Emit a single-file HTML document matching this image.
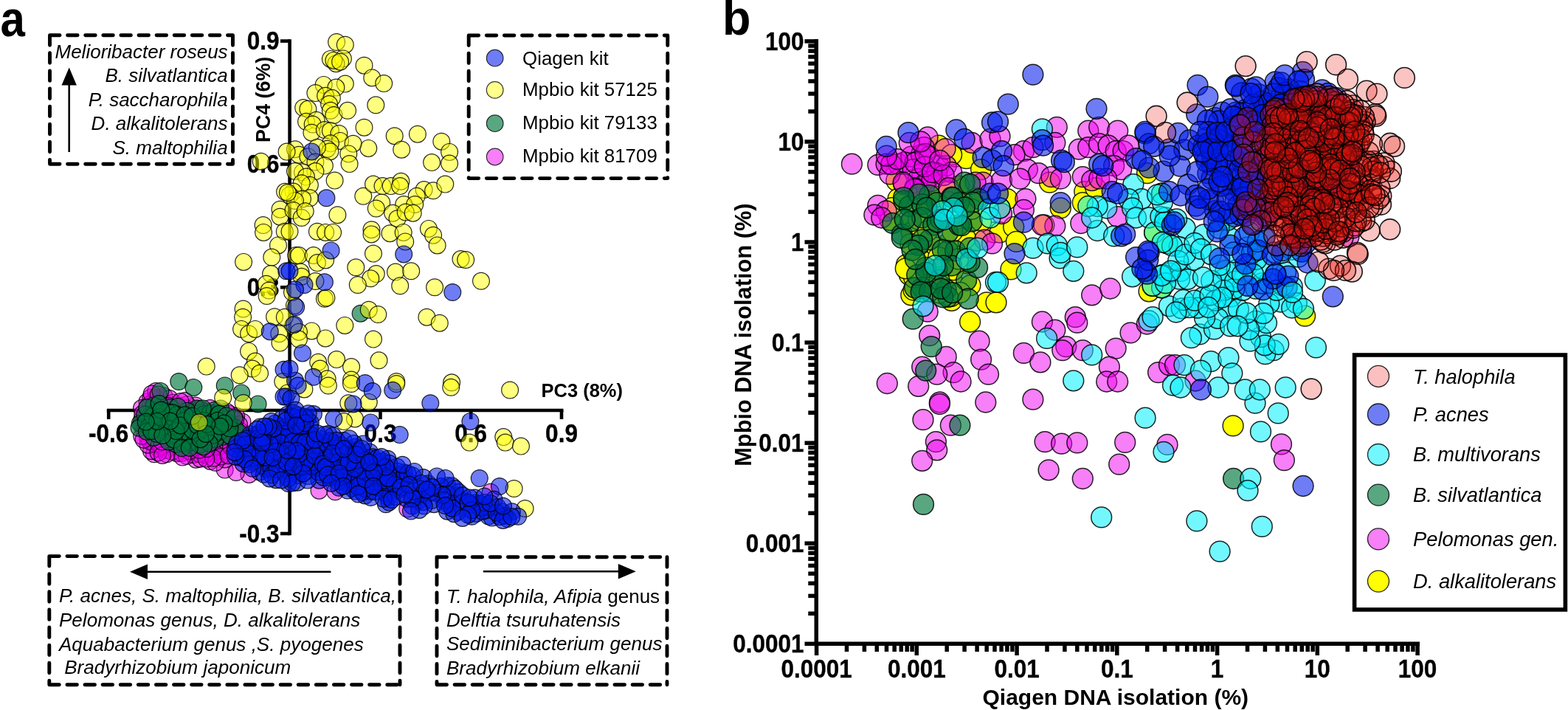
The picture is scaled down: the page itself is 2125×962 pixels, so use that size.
<!DOCTYPE html><html><head><meta charset="utf-8"><style>html,body{margin:0;padding:0;background:#fff;overflow:hidden;width:2125px;height:962px}svg{display:block}text{font-family:"Liberation Sans",Arial,sans-serif;fill:#000}.b{font-weight:bold}.i{font-style:italic}</style></head><body>
<svg width="2125" height="962" viewBox="0 0 2125 962">
<rect width="2125" height="962" fill="#fff"/>
<text class="b" font-size="60" transform="translate(0.5 48.6) scale(1 1.13)">a</text>
<text class="b" font-size="60" transform="translate(979 47.4) scale(1.05 1.1)">b</text>
<g stroke="#000" stroke-width="4.6" fill="none">
<path d="M392.6 53.3 V725.3"/>
<path d="M380 55.6 H392.6"/>
<path d="M380 222.5 H392.6"/>
<path d="M380 389.3 H392.6"/>
<path d="M380 723.0 H392.6"/>
<path d="M144.8 556 H763.5"/>
<path d="M147.2 556 V568"/>
<path d="M270.0 556 V568"/>
<path d="M515.5 556 V568"/>
<path d="M638.2 556 V568"/>
<path d="M761.0 556 V568"/>
</g>
<text class="b" font-size="31.5" text-anchor="end" stroke="#000" stroke-width="0.35" transform="translate(378.5 67.1) scale(1 1.13)">0.9</text>
<text class="b" font-size="31.5" text-anchor="end" stroke="#000" stroke-width="0.35" transform="translate(378.5 234.0) scale(1 1.13)">0.6</text>
<text class="b" font-size="31.5" text-anchor="end" stroke="#000" stroke-width="0.35" transform="translate(378.5 400.8) scale(1 1.13)">0.3</text>
<text class="b" font-size="31.5" text-anchor="end" stroke="#000" stroke-width="0.35" transform="translate(378.5 734.5) scale(1 1.13)">-0.3</text>
<text class="b" font-size="31.5" text-anchor="middle" stroke="#000" stroke-width="0.35" transform="translate(147.2 599.3) scale(1 1.13)">-0.6</text>
<text class="b" font-size="31.5" text-anchor="middle" stroke="#000" stroke-width="0.35" transform="translate(270.0 599.3) scale(1 1.13)">-0.3</text>
<text class="b" font-size="31.5" text-anchor="middle" stroke="#000" stroke-width="0.35" transform="translate(515.5 599.3) scale(1 1.13)">0.3</text>
<text class="b" font-size="31.5" text-anchor="middle" stroke="#000" stroke-width="0.35" transform="translate(638.2 599.3) scale(1 1.13)">0.6</text>
<text class="b" font-size="31.5" text-anchor="middle" stroke="#000" stroke-width="0.35" transform="translate(761.0 599.3) scale(1 1.13)">0.9</text>
<text class="b" x="733.5" y="537.6" font-size="25.5">PC3 (8%)</text>
<text class="b" x="0" y="0" font-size="26.8" text-anchor="middle" transform="translate(366 134.9) rotate(-90)">PC4 (6%)</text>
<g stroke="#000" stroke-width="5.5" fill="none">
<path d="M1106.3 53.1 V875"/>
<path d="M1104 872.3 H1924"/>
<path d="M1090.5 872.3 H1106"/>
<path d="M1106.6 872 V888"/>
<path d="M1095.3 831.3 H1106"/>
<path d="M1147.5 872 V883"/>
<path d="M1095.3 807.4 H1106"/>
<path d="M1171.4 872 V883"/>
<path d="M1095.3 790.4 H1106"/>
<path d="M1188.3 872 V883"/>
<path d="M1095.3 777.2 H1106"/>
<path d="M1201.5 872 V883"/>
<path d="M1095.3 766.4 H1106"/>
<path d="M1212.2 872 V883"/>
<path d="M1095.3 757.3 H1106"/>
<path d="M1221.3 872 V883"/>
<path d="M1095.3 749.4 H1106"/>
<path d="M1229.2 872 V883"/>
<path d="M1095.3 742.5 H1106"/>
<path d="M1236.1 872 V883"/>
<path d="M1090.5 736.2 H1106"/>
<path d="M1242.3 872 V888"/>
<path d="M1095.3 695.3 H1106"/>
<path d="M1283.2 872 V883"/>
<path d="M1095.3 671.3 H1106"/>
<path d="M1307.1 872 V883"/>
<path d="M1095.3 654.3 H1106"/>
<path d="M1324.1 872 V883"/>
<path d="M1095.3 641.1 H1106"/>
<path d="M1337.2 872 V883"/>
<path d="M1095.3 630.3 H1106"/>
<path d="M1348.0 872 V883"/>
<path d="M1095.3 621.2 H1106"/>
<path d="M1357.1 872 V883"/>
<path d="M1095.3 613.3 H1106"/>
<path d="M1364.9 872 V883"/>
<path d="M1095.3 606.4 H1106"/>
<path d="M1371.9 872 V883"/>
<path d="M1090.5 600.2 H1106"/>
<path d="M1378.1 872 V888"/>
<path d="M1095.3 559.2 H1106"/>
<path d="M1419.0 872 V883"/>
<path d="M1095.3 535.2 H1106"/>
<path d="M1442.9 872 V883"/>
<path d="M1095.3 518.2 H1106"/>
<path d="M1459.8 872 V883"/>
<path d="M1095.3 505.1 H1106"/>
<path d="M1473.0 872 V883"/>
<path d="M1095.3 494.3 H1106"/>
<path d="M1483.7 872 V883"/>
<path d="M1095.3 485.2 H1106"/>
<path d="M1492.8 872 V883"/>
<path d="M1095.3 477.3 H1106"/>
<path d="M1500.7 872 V883"/>
<path d="M1095.3 470.3 H1106"/>
<path d="M1507.6 872 V883"/>
<path d="M1090.5 464.1 H1106"/>
<path d="M1513.8 872 V888"/>
<path d="M1095.3 423.1 H1106"/>
<path d="M1554.7 872 V883"/>
<path d="M1095.3 399.2 H1106"/>
<path d="M1578.6 872 V883"/>
<path d="M1095.3 382.2 H1106"/>
<path d="M1595.6 872 V883"/>
<path d="M1095.3 369.0 H1106"/>
<path d="M1608.7 872 V883"/>
<path d="M1095.3 358.2 H1106"/>
<path d="M1619.5 872 V883"/>
<path d="M1095.3 349.1 H1106"/>
<path d="M1628.6 872 V883"/>
<path d="M1095.3 341.2 H1106"/>
<path d="M1636.4 872 V883"/>
<path d="M1095.3 334.2 H1106"/>
<path d="M1643.4 872 V883"/>
<path d="M1090.5 328.0 H1106"/>
<path d="M1649.6 872 V888"/>
<path d="M1095.3 287.1 H1106"/>
<path d="M1690.5 872 V883"/>
<path d="M1095.3 263.1 H1106"/>
<path d="M1714.4 872 V883"/>
<path d="M1095.3 246.1 H1106"/>
<path d="M1731.3 872 V883"/>
<path d="M1095.3 232.9 H1106"/>
<path d="M1744.5 872 V883"/>
<path d="M1095.3 222.1 H1106"/>
<path d="M1755.2 872 V883"/>
<path d="M1095.3 213.0 H1106"/>
<path d="M1764.3 872 V883"/>
<path d="M1095.3 205.1 H1106"/>
<path d="M1772.2 872 V883"/>
<path d="M1095.3 198.2 H1106"/>
<path d="M1779.1 872 V883"/>
<path d="M1090.5 192.0 H1106"/>
<path d="M1785.3 872 V888"/>
<path d="M1095.3 151.0 H1106"/>
<path d="M1826.2 872 V883"/>
<path d="M1095.3 127.0 H1106"/>
<path d="M1850.1 872 V883"/>
<path d="M1095.3 110.0 H1106"/>
<path d="M1867.1 872 V883"/>
<path d="M1095.3 96.8 H1106"/>
<path d="M1880.2 872 V883"/>
<path d="M1095.3 86.1 H1106"/>
<path d="M1891.0 872 V883"/>
<path d="M1095.3 77.0 H1106"/>
<path d="M1900.1 872 V883"/>
<path d="M1095.3 69.1 H1106"/>
<path d="M1907.9 872 V883"/>
<path d="M1095.3 62.1 H1106"/>
<path d="M1914.9 872 V883"/>
<path d="M1090.5 55.9 H1106"/>
<path d="M1921.1 872 V888"/>
</g>
<text class="b" font-size="31.5" text-anchor="end" stroke="#000" stroke-width="0.35" transform="translate(1089.5 884.1) scale(1 1.13)">0.0001</text>
<text class="b" font-size="31.5" text-anchor="middle" stroke="#000" stroke-width="0.35" transform="translate(1106.6 917.6) scale(1 1.13)">0.0001</text>
<text class="b" font-size="31.5" text-anchor="end" stroke="#000" stroke-width="0.35" transform="translate(1089.5 748.0) scale(1 1.13)">0.001</text>
<text class="b" font-size="31.5" text-anchor="middle" stroke="#000" stroke-width="0.35" transform="translate(1242.3 917.6) scale(1 1.13)">0.001</text>
<text class="b" font-size="31.5" text-anchor="end" stroke="#000" stroke-width="0.35" transform="translate(1089.5 612.0) scale(1 1.13)">0.01</text>
<text class="b" font-size="31.5" text-anchor="middle" stroke="#000" stroke-width="0.35" transform="translate(1378.1 917.6) scale(1 1.13)">0.01</text>
<text class="b" font-size="31.5" text-anchor="end" stroke="#000" stroke-width="0.35" transform="translate(1089.5 475.9) scale(1 1.13)">0.1</text>
<text class="b" font-size="31.5" text-anchor="middle" stroke="#000" stroke-width="0.35" transform="translate(1513.8 917.6) scale(1 1.13)">0.1</text>
<text class="b" font-size="31.5" text-anchor="end" stroke="#000" stroke-width="0.35" transform="translate(1089.5 339.8) scale(1 1.13)">1</text>
<text class="b" font-size="31.5" text-anchor="middle" stroke="#000" stroke-width="0.35" transform="translate(1649.6 917.6) scale(1 1.13)">1</text>
<text class="b" font-size="31.5" text-anchor="end" stroke="#000" stroke-width="0.35" transform="translate(1089.5 203.8) scale(1 1.13)">10</text>
<text class="b" font-size="31.5" text-anchor="middle" stroke="#000" stroke-width="0.35" transform="translate(1785.3 917.6) scale(1 1.13)">10</text>
<text class="b" font-size="31.5" text-anchor="end" stroke="#000" stroke-width="0.35" transform="translate(1089.5 67.7) scale(1 1.13)">100</text>
<text class="b" font-size="31.5" text-anchor="middle" stroke="#000" stroke-width="0.35" transform="translate(1921.1 917.6) scale(1 1.13)">100</text>
<text class="b" x="1511.8" y="954.7" font-size="30" text-anchor="middle">Qiagen DNA isolation (%)</text>
<text class="b" x="0" y="0" text-anchor="middle" transform="translate(1017.5 453.6) rotate(-90)" font-size="30.8">Mpbio DNA isolation (%)</text>
<g fill="rgba(240,0,240,0.5)" stroke="rgba(0,0,0,0.85)" stroke-width="1.2"><circle cx="304.7" cy="636.6" r="11.4"/><circle cx="337.4" cy="642.9" r="11.4"/><circle cx="432.5" cy="664.7" r="11.4"/><circle cx="454.3" cy="666.3" r="11.4"/><circle cx="664.8" cy="666.7" r="11.4"/><circle cx="552.2" cy="689.6" r="11.4"/><circle cx="320.0" cy="640.0" r="11.4"/><circle cx="209.0" cy="615.3" r="11.4"/><circle cx="227.0" cy="579.0" r="11.4"/><circle cx="286.1" cy="609.2" r="11.4"/><circle cx="253.5" cy="606.5" r="11.4"/><circle cx="221.3" cy="571.5" r="11.4"/><circle cx="223.7" cy="551.8" r="11.4"/><circle cx="257.5" cy="557.8" r="11.4"/><circle cx="313.8" cy="585.3" r="11.4"/><circle cx="238.6" cy="602.3" r="11.4"/><circle cx="328.5" cy="571.5" r="11.4"/><circle cx="288.9" cy="559.2" r="11.4"/><circle cx="264.3" cy="588.7" r="11.4"/><circle cx="225.2" cy="610.1" r="11.4"/><circle cx="214.8" cy="584.5" r="11.4"/><circle cx="289.5" cy="566.6" r="11.4"/><circle cx="264.8" cy="608.2" r="11.4"/><circle cx="247.6" cy="578.4" r="11.4"/><circle cx="277.4" cy="568.5" r="11.4"/><circle cx="303.8" cy="583.6" r="11.4"/><circle cx="275.1" cy="575.3" r="11.4"/><circle cx="299.3" cy="611.3" r="11.4"/><circle cx="318.6" cy="586.7" r="11.4"/><circle cx="264.2" cy="577.9" r="11.4"/><circle cx="240.6" cy="583.5" r="11.4"/><circle cx="280.3" cy="575.2" r="11.4"/><circle cx="223.2" cy="546.3" r="11.4"/><circle cx="307.8" cy="612.1" r="11.4"/><circle cx="314.4" cy="597.3" r="11.4"/><circle cx="205.3" cy="592.4" r="11.4"/><circle cx="199.4" cy="544.4" r="11.4"/><circle cx="214.1" cy="556.1" r="11.4"/><circle cx="192.5" cy="567.8" r="11.4"/><circle cx="217.0" cy="539.2" r="11.4"/><circle cx="265.0" cy="549.5" r="11.4"/><circle cx="294.0" cy="597.9" r="11.4"/><circle cx="236.9" cy="593.0" r="11.4"/><circle cx="299.8" cy="570.9" r="11.4"/><circle cx="293.9" cy="580.4" r="11.4"/><circle cx="240.7" cy="549.2" r="11.4"/><circle cx="253.5" cy="548.0" r="11.4"/><circle cx="305.6" cy="562.9" r="11.4"/><circle cx="289.5" cy="614.3" r="11.4"/><circle cx="224.0" cy="602.7" r="11.4"/><circle cx="314.3" cy="565.9" r="11.4"/><circle cx="209.2" cy="584.8" r="11.4"/><circle cx="222.3" cy="536.4" r="11.4"/><circle cx="233.0" cy="589.4" r="11.4"/><circle cx="221.1" cy="591.6" r="11.4"/><circle cx="269.9" cy="598.9" r="11.4"/><circle cx="284.9" cy="624.9" r="11.4"/><circle cx="234.7" cy="561.7" r="11.4"/><circle cx="275.3" cy="589.4" r="11.4"/><circle cx="192.0" cy="553.1" r="11.4"/><circle cx="200.2" cy="593.4" r="11.4"/><circle cx="307.0" cy="578.8" r="11.4"/><circle cx="212.0" cy="579.6" r="11.4"/><circle cx="214.8" cy="607.9" r="11.4"/><circle cx="311.4" cy="560.9" r="11.4"/><circle cx="265.6" cy="622.7" r="11.4"/><circle cx="300.2" cy="599.0" r="11.4"/><circle cx="315.8" cy="574.7" r="11.4"/><circle cx="239.5" cy="554.6" r="11.4"/><circle cx="285.3" cy="570.9" r="11.4"/><circle cx="198.3" cy="564.6" r="11.4"/><circle cx="207.6" cy="554.7" r="11.4"/><circle cx="248.3" cy="569.3" r="11.4"/><circle cx="254.3" cy="598.7" r="11.4"/><circle cx="230.0" cy="594.6" r="11.4"/><circle cx="199.7" cy="580.7" r="11.4"/><circle cx="244.4" cy="600.2" r="11.4"/><circle cx="277.6" cy="616.2" r="11.4"/><circle cx="273.9" cy="606.0" r="11.4"/><circle cx="290.6" cy="601.9" r="11.4"/><circle cx="293.4" cy="573.8" r="11.4"/><circle cx="308.6" cy="572.6" r="11.4"/><circle cx="233.0" cy="553.6" r="11.4"/><circle cx="282.5" cy="590.4" r="11.4"/><circle cx="219.8" cy="557.3" r="11.4"/><circle cx="262.1" cy="616.1" r="11.4"/><circle cx="205.1" cy="611.2" r="11.4"/><circle cx="235.4" cy="579.8" r="11.4"/><circle cx="254.9" cy="574.3" r="11.4"/><circle cx="248.5" cy="608.7" r="11.4"/><circle cx="262.4" cy="594.7" r="11.4"/><circle cx="234.5" cy="545.5" r="11.4"/><circle cx="268.1" cy="565.0" r="11.4"/><circle cx="310.5" cy="590.4" r="11.4"/><circle cx="252.0" cy="564.6" r="11.4"/><circle cx="214.1" cy="595.3" r="11.4"/><circle cx="323.0" cy="592.1" r="11.4"/><circle cx="297.5" cy="590.4" r="11.4"/><circle cx="209.6" cy="601.7" r="11.4"/><circle cx="204.9" cy="568.9" r="11.4"/><circle cx="203.9" cy="547.2" r="11.4"/><circle cx="240.0" cy="614.3" r="11.4"/><circle cx="257.9" cy="587.7" r="11.4"/><circle cx="295.5" cy="562.0" r="11.4"/><circle cx="236.6" cy="567.5" r="11.4"/><circle cx="229.8" cy="540.1" r="11.4"/><circle cx="247.1" cy="593.0" r="11.4"/><circle cx="284.6" cy="553.0" r="11.4"/><circle cx="328.3" cy="588.8" r="11.4"/><circle cx="279.2" cy="585.7" r="11.4"/><circle cx="296.4" cy="605.5" r="11.4"/><circle cx="195.0" cy="582.7" r="11.4"/><circle cx="252.3" cy="553.3" r="11.4"/><circle cx="300.5" cy="579.6" r="11.4"/><circle cx="203.8" cy="584.2" r="11.4"/><circle cx="233.6" cy="599.2" r="11.4"/><circle cx="269.9" cy="586.9" r="11.4"/><circle cx="239.1" cy="575.0" r="11.4"/><circle cx="276.8" cy="557.6" r="11.4"/><circle cx="261.4" cy="601.7" r="11.4"/><circle cx="228.5" cy="556.7" r="11.4"/><circle cx="219.0" cy="581.6" r="11.4"/><circle cx="228.9" cy="583.7" r="11.4"/><circle cx="228.8" cy="550.1" r="11.4"/><circle cx="259.1" cy="562.9" r="11.4"/><circle cx="200.5" cy="602.7" r="11.4"/><circle cx="290.2" cy="591.9" r="11.4"/><circle cx="259.5" cy="569.5" r="11.4"/><circle cx="270.2" cy="614.9" r="11.4"/><circle cx="305.1" cy="589.7" r="11.4"/><circle cx="196.9" cy="576.5" r="11.4"/><circle cx="304.8" cy="622.4" r="11.4"/><circle cx="320.1" cy="563.7" r="11.4"/><circle cx="232.8" cy="612.1" r="11.4"/><circle cx="246.1" cy="613.9" r="11.4"/><circle cx="259.2" cy="578.7" r="11.4"/><circle cx="254.7" cy="583.8" r="11.4"/><circle cx="211.3" cy="566.7" r="11.4"/><circle cx="325.0" cy="583.4" r="11.4"/><circle cx="286.4" cy="583.3" r="11.4"/><circle cx="230.4" cy="570.8" r="11.4"/><circle cx="281.7" cy="603.3" r="11.4"/><circle cx="253.0" cy="617.8" r="11.4"/><circle cx="224.9" cy="567.3" r="11.4"/><circle cx="284.1" cy="597.2" r="11.4"/><circle cx="203.0" cy="597.8" r="11.4"/><circle cx="324.0" cy="575.2" r="11.4"/><circle cx="271.3" cy="621.7" r="11.4"/><circle cx="252.6" cy="588.6" r="11.4"/><circle cx="271.1" cy="593.7" r="11.4"/><circle cx="211.1" cy="539.1" r="11.4"/><circle cx="193.3" cy="560.5" r="11.4"/><circle cx="276.7" cy="596.4" r="11.4"/><circle cx="284.7" cy="564.7" r="11.4"/><circle cx="291.9" cy="626.8" r="11.4"/><circle cx="243.5" cy="558.3" r="11.4"/><circle cx="299.8" cy="618.6" r="11.4"/><circle cx="265.5" cy="560.7" r="11.4"/><circle cx="271.0" cy="553.9" r="11.4"/><circle cx="219.2" cy="604.9" r="11.4"/><circle cx="225.8" cy="615.3" r="11.4"/><circle cx="208.9" cy="549.4" r="11.4"/><circle cx="319.2" cy="568.8" r="11.4"/><circle cx="213.0" cy="573.5" r="11.4"/><circle cx="269.6" cy="572.0" r="11.4"/><circle cx="204.4" cy="538.6" r="11.4"/><circle cx="211.2" cy="530.0" r="11.4"/><circle cx="214.9" cy="600.7" r="11.4"/><circle cx="292.0" cy="586.3" r="11.4"/><circle cx="271.7" cy="559.4" r="11.4"/><circle cx="192.2" cy="590.9" r="11.4"/><circle cx="307.9" cy="599.0" r="11.4"/><circle cx="289.2" cy="620.8" r="11.4"/><circle cx="226.2" cy="590.1" r="11.4"/><circle cx="281.6" cy="560.6" r="11.4"/><circle cx="199.5" cy="551.8" r="11.4"/><circle cx="279.4" cy="621.6" r="11.4"/><circle cx="266.6" cy="583.0" r="11.4"/><circle cx="256.5" cy="611.3" r="11.4"/><circle cx="313.0" cy="605.2" r="11.4"/><circle cx="280.0" cy="608.0" r="11.4"/><circle cx="250.4" cy="543.1" r="11.4"/><circle cx="194.6" cy="595.7" r="11.4"/><circle cx="214.6" cy="613.4" r="11.4"/><circle cx="205.7" cy="533.5" r="11.4"/><circle cx="240.1" cy="588.6" r="11.4"/><circle cx="230.1" cy="564.4" r="11.4"/><circle cx="191.8" cy="573.7" r="11.4"/><circle cx="307.0" cy="557.8" r="11.4"/><circle cx="202.6" cy="574.5" r="11.4"/><circle cx="220.0" cy="616.9" r="11.4"/><circle cx="247.3" cy="619.6" r="11.4"/><circle cx="203.3" cy="563.7" r="11.4"/><circle cx="309.7" cy="617.2" r="11.4"/><circle cx="214.8" cy="534.6" r="11.4"/><circle cx="219.4" cy="598.3" r="11.4"/><circle cx="244.6" cy="544.1" r="11.4"/><circle cx="270.1" cy="609.5" r="11.4"/></g>
<g fill="rgba(0,120,62,0.65)" stroke="rgba(0,0,0,0.85)" stroke-width="1.2"><circle cx="488.6" cy="424.7" r="11.4"/><circle cx="217.4" cy="529.9" r="11.4"/><circle cx="327.2" cy="532.4" r="11.4"/><circle cx="349.6" cy="547.4" r="11.4"/><circle cx="242.3" cy="517.0" r="11.4"/><circle cx="262.3" cy="524.9" r="11.4"/><circle cx="304.7" cy="522.4" r="11.4"/><circle cx="302.1" cy="591.6" r="11.4"/><circle cx="228.8" cy="583.0" r="11.4"/><circle cx="266.8" cy="553.5" r="11.4"/><circle cx="240.7" cy="590.7" r="11.4"/><circle cx="318.0" cy="578.9" r="11.4"/><circle cx="189.8" cy="573.7" r="11.4"/><circle cx="238.8" cy="601.9" r="11.4"/><circle cx="231.2" cy="552.0" r="11.4"/><circle cx="292.0" cy="595.1" r="11.4"/><circle cx="208.4" cy="592.8" r="11.4"/><circle cx="250.1" cy="578.0" r="11.4"/><circle cx="286.6" cy="575.1" r="11.4"/><circle cx="231.1" cy="589.2" r="11.4"/><circle cx="276.5" cy="581.8" r="11.4"/><circle cx="214.9" cy="576.8" r="11.4"/><circle cx="276.8" cy="561.0" r="11.4"/><circle cx="258.6" cy="599.4" r="11.4"/><circle cx="299.1" cy="553.4" r="11.4"/><circle cx="282.1" cy="568.4" r="11.4"/><circle cx="248.4" cy="593.6" r="11.4"/><circle cx="248.2" cy="600.7" r="11.4"/><circle cx="267.3" cy="568.9" r="11.4"/><circle cx="222.0" cy="583.0" r="11.4"/><circle cx="188.5" cy="579.8" r="11.4"/><circle cx="208.4" cy="549.3" r="11.4"/><circle cx="268.2" cy="584.2" r="11.4"/><circle cx="284.6" cy="559.9" r="11.4"/><circle cx="211.3" cy="558.3" r="11.4"/><circle cx="258.4" cy="573.7" r="11.4"/><circle cx="236.9" cy="577.3" r="11.4"/><circle cx="228.5" cy="598.5" r="11.4"/><circle cx="253.5" cy="556.7" r="11.4"/><circle cx="196.3" cy="561.8" r="11.4"/><circle cx="290.9" cy="555.7" r="11.4"/><circle cx="240.9" cy="551.0" r="11.4"/><circle cx="277.6" cy="594.3" r="11.4"/><circle cx="255.2" cy="566.6" r="11.4"/><circle cx="297.0" cy="560.8" r="11.4"/><circle cx="227.3" cy="558.3" r="11.4"/><circle cx="222.1" cy="571.2" r="11.4"/><circle cx="206.4" cy="570.5" r="11.4"/><circle cx="323.4" cy="585.8" r="11.4"/><circle cx="201.6" cy="578.7" r="11.4"/><circle cx="257.8" cy="590.2" r="11.4"/><circle cx="310.4" cy="573.4" r="11.4"/><circle cx="270.3" cy="602.8" r="11.4"/><circle cx="295.0" cy="569.7" r="11.4"/><circle cx="307.0" cy="563.4" r="11.4"/><circle cx="198.9" cy="584.8" r="11.4"/><circle cx="247.4" cy="585.2" r="11.4"/><circle cx="212.3" cy="587.8" r="11.4"/><circle cx="235.5" cy="595.5" r="11.4"/><circle cx="298.4" cy="584.8" r="11.4"/><circle cx="237.1" cy="569.1" r="11.4"/><circle cx="240.2" cy="561.8" r="11.4"/><circle cx="206.9" cy="563.9" r="11.4"/><circle cx="199.2" cy="552.4" r="11.4"/><circle cx="233.6" cy="559.3" r="11.4"/><circle cx="249.2" cy="570.2" r="11.4"/><circle cx="238.7" cy="584.1" r="11.4"/><circle cx="311.7" cy="590.4" r="11.4"/><circle cx="289.2" cy="589.4" r="11.4"/><circle cx="250.5" cy="562.3" r="11.4"/><circle cx="311.4" cy="580.5" r="11.4"/><circle cx="215.8" cy="565.0" r="11.4"/><circle cx="283.8" cy="600.7" r="11.4"/><circle cx="215.6" cy="547.1" r="11.4"/><circle cx="205.2" cy="584.0" r="11.4"/><circle cx="246.6" cy="607.0" r="11.4"/><circle cx="275.8" cy="605.2" r="11.4"/><circle cx="317.3" cy="566.4" r="11.4"/><circle cx="256.8" cy="606.8" r="11.4"/><circle cx="261.1" cy="583.2" r="11.4"/><circle cx="218.4" cy="555.5" r="11.4"/><circle cx="220.4" cy="590.0" r="11.4"/><circle cx="303.7" cy="573.5" r="11.4"/><circle cx="244.4" cy="576.4" r="11.4"/><circle cx="276.2" cy="570.0" r="11.4"/><circle cx="267.7" cy="576.7" r="11.4"/><circle cx="271.5" cy="595.2" r="11.4"/><circle cx="298.3" cy="577.8" r="11.4"/><circle cx="280.1" cy="574.7" r="11.4"/><circle cx="260.7" cy="563.7" r="11.4"/><circle cx="274.8" cy="553.4" r="11.4"/><circle cx="230.6" cy="570.6" r="11.4"/><circle cx="278.9" cy="587.9" r="11.4"/><circle cx="213.0" cy="570.9" r="11.4"/><circle cx="197.7" cy="571.6" r="11.4"/></g>
<g fill="rgba(255,255,0,0.5)" stroke="rgba(0,0,0,0.85)" stroke-width="1.2"><circle cx="456.1" cy="57.0" r="11.4"/><circle cx="467.8" cy="60.7" r="11.4"/><circle cx="447.9" cy="79.9" r="11.4"/><circle cx="464.9" cy="79.4" r="11.4"/><circle cx="455.4" cy="86.2" r="11.4"/><circle cx="452.4" cy="81.9" r="11.4"/><circle cx="461.1" cy="83.7" r="11.4"/><circle cx="493.5" cy="88.7" r="11.4"/><circle cx="504.3" cy="105.4" r="11.4"/><circle cx="520.2" cy="113.1" r="11.4"/><circle cx="438.7" cy="114.9" r="11.4"/><circle cx="467.8" cy="113.6" r="11.4"/><circle cx="455.4" cy="118.6" r="11.4"/><circle cx="427.4" cy="126.1" r="11.4"/><circle cx="441.1" cy="129.8" r="11.4"/><circle cx="449.9" cy="132.8" r="11.4"/><circle cx="446.1" cy="141.0" r="11.4"/><circle cx="447.9" cy="149.8" r="11.4"/><circle cx="452.4" cy="156.0" r="11.4"/><circle cx="471.1" cy="149.8" r="11.4"/><circle cx="509.3" cy="142.3" r="11.4"/><circle cx="411.2" cy="146.0" r="11.4"/><circle cx="417.4" cy="147.8" r="11.4"/><circle cx="415.0" cy="164.8" r="11.4"/><circle cx="428.7" cy="162.8" r="11.4"/><circle cx="423.7" cy="168.5" r="11.4"/><circle cx="422.4" cy="179.7" r="11.4"/><circle cx="439.9" cy="176.0" r="11.4"/><circle cx="447.9" cy="177.2" r="11.4"/><circle cx="459.4" cy="181.0" r="11.4"/><circle cx="461.1" cy="190.9" r="11.4"/><circle cx="447.9" cy="194.2" r="11.4"/><circle cx="443.6" cy="201.7" r="11.4"/><circle cx="447.4" cy="205.2" r="11.4"/><circle cx="493.5" cy="172.7" r="11.4"/><circle cx="534.7" cy="184.2" r="11.4"/><circle cx="565.9" cy="181.7" r="11.4"/><circle cx="598.3" cy="191.7" r="11.4"/><circle cx="544.2" cy="202.7" r="11.4"/><circle cx="609.1" cy="205.9" r="11.4"/><circle cx="585.1" cy="220.1" r="11.4"/><circle cx="609.1" cy="221.6" r="11.4"/><circle cx="499.3" cy="200.9" r="11.4"/><circle cx="478.6" cy="194.7" r="11.4"/><circle cx="472.3" cy="208.4" r="11.4"/><circle cx="473.6" cy="222.1" r="11.4"/><circle cx="400.0" cy="202.2" r="11.4"/><circle cx="405.0" cy="209.7" r="11.4"/><circle cx="417.4" cy="212.2" r="11.4"/><circle cx="429.9" cy="199.7" r="11.4"/><circle cx="427.4" cy="219.6" r="11.4"/><circle cx="439.9" cy="224.6" r="11.4"/><circle cx="427.4" cy="232.1" r="11.4"/><circle cx="410.0" cy="233.4" r="11.4"/><circle cx="400.0" cy="232.1" r="11.4"/><circle cx="415.0" cy="239.6" r="11.4"/><circle cx="419.9" cy="250.8" r="11.4"/><circle cx="408.7" cy="248.3" r="11.4"/><circle cx="397.5" cy="259.6" r="11.4"/><circle cx="453.6" cy="244.6" r="11.4"/><circle cx="392.5" cy="264.6" r="11.4"/><circle cx="419.9" cy="268.3" r="11.4"/><circle cx="410.0" cy="269.5" r="11.4"/><circle cx="400.0" cy="272.0" r="11.4"/><circle cx="492.3" cy="265.8" r="11.4"/><circle cx="506.0" cy="249.6" r="11.4"/><circle cx="518.5" cy="252.1" r="11.4"/><circle cx="529.7" cy="252.1" r="11.4"/><circle cx="543.4" cy="245.8" r="11.4"/><circle cx="542.2" cy="252.1" r="11.4"/><circle cx="574.6" cy="257.1" r="11.4"/><circle cx="564.7" cy="265.8" r="11.4"/><circle cx="587.1" cy="258.3" r="11.4"/><circle cx="603.3" cy="249.6" r="11.4"/><circle cx="517.2" cy="274.5" r="11.4"/><circle cx="547.2" cy="277.0" r="11.4"/><circle cx="562.2" cy="277.0" r="11.4"/><circle cx="353.7" cy="218.7" r="11.4"/><circle cx="388.6" cy="205.6" r="11.4"/><circle cx="386.1" cy="259.8" r="11.4"/><circle cx="389.9" cy="261.0" r="11.4"/><circle cx="399.0" cy="414.0" r="11.4"/><circle cx="397.0" cy="441.0" r="11.4"/><circle cx="396.0" cy="396.0" r="11.4"/><circle cx="379.5" cy="283.7" r="11.4"/><circle cx="379.5" cy="293.7" r="11.4"/><circle cx="356.6" cy="305.0" r="11.4"/><circle cx="357.1" cy="314.9" r="11.4"/><circle cx="385.8" cy="313.7" r="11.4"/><circle cx="377.0" cy="332.4" r="11.4"/><circle cx="368.3" cy="348.6" r="11.4"/><circle cx="330.1" cy="354.9" r="11.4"/><circle cx="367.1" cy="371.1" r="11.4"/><circle cx="360.8" cy="384.8" r="11.4"/><circle cx="364.6" cy="393.5" r="11.4"/><circle cx="361.6" cy="401.0" r="11.4"/><circle cx="329.6" cy="418.5" r="11.4"/><circle cx="329.1" cy="429.7" r="11.4"/><circle cx="327.1" cy="445.9" r="11.4"/><circle cx="337.1" cy="452.2" r="11.4"/><circle cx="345.9" cy="445.9" r="11.4"/><circle cx="372.1" cy="429.2" r="11.4"/><circle cx="385.8" cy="429.7" r="11.4"/><circle cx="378.3" cy="452.2" r="11.4"/><circle cx="379.5" cy="464.6" r="11.4"/><circle cx="337.1" cy="475.9" r="11.4"/><circle cx="345.9" cy="489.6" r="11.4"/><circle cx="342.1" cy="499.6" r="11.4"/><circle cx="352.1" cy="505.8" r="11.4"/><circle cx="324.7" cy="508.3" r="11.4"/><circle cx="279.7" cy="496.6" r="11.4"/><circle cx="383.3" cy="517.0" r="11.4"/><circle cx="397.5" cy="285.0" r="11.4"/><circle cx="408.7" cy="295.0" r="11.4"/><circle cx="413.7" cy="286.2" r="11.4"/><circle cx="457.4" cy="291.2" r="11.4"/><circle cx="509.8" cy="282.5" r="11.4"/><circle cx="532.2" cy="288.7" r="11.4"/><circle cx="538.5" cy="296.2" r="11.4"/><circle cx="549.7" cy="287.5" r="11.4"/><circle cx="559.7" cy="288.7" r="11.4"/><circle cx="429.9" cy="313.7" r="11.4"/><circle cx="441.1" cy="314.9" r="11.4"/><circle cx="451.1" cy="314.9" r="11.4"/><circle cx="392.5" cy="313.7" r="11.4"/><circle cx="503.5" cy="311.2" r="11.4"/><circle cx="503.5" cy="317.4" r="11.4"/><circle cx="528.5" cy="316.2" r="11.4"/><circle cx="546.7" cy="314.9" r="11.4"/><circle cx="549.2" cy="327.4" r="11.4"/><circle cx="580.9" cy="309.9" r="11.4"/><circle cx="587.1" cy="318.7" r="11.4"/><circle cx="592.6" cy="332.4" r="11.4"/><circle cx="401.2" cy="346.1" r="11.4"/><circle cx="405.0" cy="346.1" r="11.4"/><circle cx="424.9" cy="346.1" r="11.4"/><circle cx="429.9" cy="356.1" r="11.4"/><circle cx="441.1" cy="352.4" r="11.4"/><circle cx="506.0" cy="343.6" r="11.4"/><circle cx="482.3" cy="362.3" r="11.4"/><circle cx="624.5" cy="351.1" r="11.4"/><circle cx="509.8" cy="371.1" r="11.4"/><circle cx="502.3" cy="377.3" r="11.4"/><circle cx="536.0" cy="368.6" r="11.4"/><circle cx="557.2" cy="367.3" r="11.4"/><circle cx="484.8" cy="386.0" r="11.4"/><circle cx="542.2" cy="387.3" r="11.4"/><circle cx="589.1" cy="389.3" r="11.4"/><circle cx="407.5" cy="368.6" r="11.4"/><circle cx="408.7" cy="374.8" r="11.4"/><circle cx="427.4" cy="381.0" r="11.4"/><circle cx="439.9" cy="404.8" r="11.4"/><circle cx="442.4" cy="403.5" r="11.4"/><circle cx="499.8" cy="419.7" r="11.4"/><circle cx="512.3" cy="426.0" r="11.4"/><circle cx="467.3" cy="440.9" r="11.4"/><circle cx="506.0" cy="459.6" r="11.4"/><circle cx="578.4" cy="429.7" r="11.4"/><circle cx="595.8" cy="437.7" r="11.4"/><circle cx="422.4" cy="448.4" r="11.4"/><circle cx="441.1" cy="458.4" r="11.4"/><circle cx="405.0" cy="449.7" r="11.4"/><circle cx="405.0" cy="459.6" r="11.4"/><circle cx="431.2" cy="490.8" r="11.4"/><circle cx="433.7" cy="499.6" r="11.4"/><circle cx="456.1" cy="487.1" r="11.4"/><circle cx="476.1" cy="497.1" r="11.4"/><circle cx="513.5" cy="488.3" r="11.4"/><circle cx="443.6" cy="513.3" r="11.4"/><circle cx="476.1" cy="514.5" r="11.4"/><circle cx="537.2" cy="517.0" r="11.4"/><circle cx="612.1" cy="518.3" r="11.4"/><circle cx="631.2" cy="352.0" r="11.4"/><circle cx="652.0" cy="380.8" r="11.4"/><circle cx="611.2" cy="524.8" r="11.4"/><circle cx="691.1" cy="528.5" r="11.4"/><circle cx="636.2" cy="599.6" r="11.4"/><circle cx="682.3" cy="592.1" r="11.4"/><circle cx="684.8" cy="599.6" r="11.4"/><circle cx="706.0" cy="604.6" r="11.4"/><circle cx="696.6" cy="662.0" r="11.4"/><circle cx="711.6" cy="689.0" r="11.4"/><circle cx="476.0" cy="520.0" r="11.4"/><circle cx="412.4" cy="527.4" r="11.4"/><circle cx="390.0" cy="532.4" r="11.4"/><circle cx="499.8" cy="544.9" r="11.4"/><circle cx="472.3" cy="546.2" r="11.4"/><circle cx="481.0" cy="567.4" r="11.4"/><circle cx="466.0" cy="571.1" r="11.4"/><circle cx="537.2" cy="520.0" r="11.4"/><circle cx="444.9" cy="522.5" r="11.4"/><circle cx="302.2" cy="538.7" r="11.4"/><circle cx="329.7" cy="546.1" r="11.4"/><circle cx="269.8" cy="572.3" r="11.4"/></g>
<g fill="rgba(0,27,237,0.57)" stroke="rgba(0,0,0,0.85)" stroke-width="1.2"><circle cx="422.4" cy="205.4" r="11.4"/><circle cx="442.4" cy="268.3" r="11.4"/><circle cx="388.3" cy="367.3" r="11.4"/><circle cx="365.8" cy="449.2" r="11.4"/><circle cx="384.5" cy="500.8" r="11.4"/><circle cx="448.6" cy="339.4" r="11.4"/><circle cx="547.2" cy="344.4" r="11.4"/><circle cx="439.9" cy="382.3" r="11.4"/><circle cx="412.5" cy="386.0" r="11.4"/><circle cx="400.0" cy="392.3" r="11.4"/><circle cx="401.2" cy="416.0" r="11.4"/><circle cx="398.7" cy="439.7" r="11.4"/><circle cx="410.0" cy="478.4" r="11.4"/><circle cx="424.9" cy="510.8" r="11.4"/><circle cx="400.0" cy="515.8" r="11.4"/><circle cx="392.5" cy="367.3" r="11.4"/><circle cx="392.5" cy="499.6" r="11.4"/><circle cx="613.3" cy="396.0" r="11.4"/><circle cx="494.8" cy="519.0" r="11.4"/><circle cx="637.4" cy="570.9" r="11.4"/><circle cx="649.8" cy="648.0" r="11.4"/><circle cx="677.0" cy="659.0" r="11.4"/><circle cx="403.7" cy="522.5" r="11.4"/><circle cx="424.9" cy="561.1" r="11.4"/><circle cx="452.4" cy="567.4" r="11.4"/><circle cx="504.7" cy="530.0" r="11.4"/><circle cx="478.6" cy="547.4" r="11.4"/><circle cx="532.2" cy="528.7" r="11.4"/><circle cx="583.3" cy="546.2" r="11.4"/><circle cx="502.3" cy="572.4" r="11.4"/><circle cx="541.7" cy="589.1" r="11.4"/><circle cx="387.5" cy="537.4" r="11.4"/><circle cx="384.5" cy="537.4" r="11.4"/><circle cx="394.5" cy="540.0" r="11.4"/><circle cx="403.5" cy="637.9" r="11.4"/><circle cx="551.0" cy="650.7" r="11.4"/><circle cx="412.1" cy="589.2" r="11.4"/><circle cx="499.6" cy="652.8" r="11.4"/><circle cx="606.4" cy="657.9" r="11.4"/><circle cx="362.4" cy="586.4" r="11.4"/><circle cx="483.4" cy="650.9" r="11.4"/><circle cx="543.4" cy="644.2" r="11.4"/><circle cx="537.0" cy="664.6" r="11.4"/><circle cx="387.2" cy="616.5" r="11.4"/><circle cx="694.0" cy="693.3" r="11.4"/><circle cx="493.2" cy="634.1" r="11.4"/><circle cx="547.7" cy="640.3" r="11.4"/><circle cx="481.4" cy="665.6" r="11.4"/><circle cx="517.7" cy="638.6" r="11.4"/><circle cx="475.0" cy="643.5" r="11.4"/><circle cx="592.6" cy="668.4" r="11.4"/><circle cx="491.5" cy="645.5" r="11.4"/><circle cx="454.3" cy="601.5" r="11.4"/><circle cx="403.8" cy="581.8" r="11.4"/><circle cx="437.4" cy="604.8" r="11.4"/><circle cx="375.8" cy="605.3" r="11.4"/><circle cx="398.3" cy="571.3" r="11.4"/><circle cx="566.4" cy="679.1" r="11.4"/><circle cx="359.9" cy="598.2" r="11.4"/><circle cx="416.9" cy="606.8" r="11.4"/><circle cx="476.8" cy="616.7" r="11.4"/><circle cx="608.1" cy="683.9" r="11.4"/><circle cx="445.1" cy="588.1" r="11.4"/><circle cx="680.0" cy="693.3" r="11.4"/><circle cx="387.1" cy="636.4" r="11.4"/><circle cx="417.0" cy="594.5" r="11.4"/><circle cx="478.1" cy="626.7" r="11.4"/><circle cx="384.6" cy="604.0" r="11.4"/><circle cx="458.1" cy="647.4" r="11.4"/><circle cx="457.7" cy="630.3" r="11.4"/><circle cx="477.1" cy="661.5" r="11.4"/><circle cx="336.5" cy="619.1" r="11.4"/><circle cx="662.2" cy="699.6" r="11.4"/><circle cx="669.5" cy="676.7" r="11.4"/><circle cx="438.3" cy="641.0" r="11.4"/><circle cx="455.7" cy="614.7" r="11.4"/><circle cx="612.4" cy="658.3" r="11.4"/><circle cx="415.4" cy="583.6" r="11.4"/><circle cx="500.9" cy="612.5" r="11.4"/><circle cx="500.9" cy="646.5" r="11.4"/><circle cx="644.0" cy="681.5" r="11.4"/><circle cx="501.6" cy="665.7" r="11.4"/><circle cx="400.2" cy="589.2" r="11.4"/><circle cx="384.0" cy="593.0" r="11.4"/><circle cx="433.9" cy="618.9" r="11.4"/><circle cx="451.4" cy="643.6" r="11.4"/><circle cx="483.4" cy="628.7" r="11.4"/><circle cx="465.2" cy="637.9" r="11.4"/><circle cx="619.0" cy="671.4" r="11.4"/><circle cx="580.1" cy="655.2" r="11.4"/><circle cx="597.1" cy="659.0" r="11.4"/><circle cx="492.1" cy="601.4" r="11.4"/><circle cx="414.8" cy="612.6" r="11.4"/><circle cx="450.3" cy="604.7" r="11.4"/><circle cx="525.9" cy="673.7" r="11.4"/><circle cx="416.6" cy="568.0" r="11.4"/><circle cx="621.6" cy="666.7" r="11.4"/><circle cx="366.6" cy="615.0" r="11.4"/><circle cx="666.8" cy="701.6" r="11.4"/><circle cx="530.4" cy="644.0" r="11.4"/><circle cx="518.7" cy="624.7" r="11.4"/><circle cx="509.3" cy="653.9" r="11.4"/><circle cx="328.0" cy="608.9" r="11.4"/><circle cx="388.3" cy="577.6" r="11.4"/><circle cx="477.8" cy="654.4" r="11.4"/><circle cx="494.8" cy="671.4" r="11.4"/><circle cx="457.1" cy="635.6" r="11.4"/><circle cx="365.4" cy="624.7" r="11.4"/><circle cx="488.2" cy="616.4" r="11.4"/><circle cx="328.2" cy="615.7" r="11.4"/><circle cx="374.0" cy="650.2" r="11.4"/><circle cx="408.4" cy="594.1" r="11.4"/><circle cx="677.4" cy="700.2" r="11.4"/><circle cx="343.0" cy="598.5" r="11.4"/><circle cx="353.8" cy="613.6" r="11.4"/><circle cx="551.8" cy="664.1" r="11.4"/><circle cx="346.7" cy="589.6" r="11.4"/><circle cx="396.3" cy="640.8" r="11.4"/><circle cx="383.4" cy="580.2" r="11.4"/><circle cx="342.2" cy="625.5" r="11.4"/><circle cx="566.3" cy="672.1" r="11.4"/><circle cx="447.1" cy="647.2" r="11.4"/><circle cx="338.7" cy="606.7" r="11.4"/><circle cx="442.7" cy="620.1" r="11.4"/><circle cx="395.4" cy="578.3" r="11.4"/><circle cx="502.8" cy="674.0" r="11.4"/><circle cx="382.0" cy="567.4" r="11.4"/><circle cx="426.2" cy="634.0" r="11.4"/><circle cx="418.8" cy="620.3" r="11.4"/><circle cx="606.7" cy="669.8" r="11.4"/><circle cx="349.3" cy="599.4" r="11.4"/><circle cx="372.6" cy="601.4" r="11.4"/><circle cx="481.9" cy="605.5" r="11.4"/><circle cx="325.3" cy="619.9" r="11.4"/><circle cx="420.3" cy="578.8" r="11.4"/><circle cx="496.0" cy="657.0" r="11.4"/><circle cx="474.7" cy="633.8" r="11.4"/><circle cx="472.1" cy="607.7" r="11.4"/><circle cx="434.5" cy="634.4" r="11.4"/><circle cx="650.7" cy="682.5" r="11.4"/><circle cx="539.2" cy="638.8" r="11.4"/><circle cx="380.6" cy="612.6" r="11.4"/><circle cx="435.1" cy="594.9" r="11.4"/><circle cx="465.8" cy="596.7" r="11.4"/><circle cx="339.6" cy="588.4" r="11.4"/><circle cx="335.6" cy="594.4" r="11.4"/><circle cx="415.6" cy="638.2" r="11.4"/><circle cx="378.6" cy="582.1" r="11.4"/><circle cx="420.8" cy="573.0" r="11.4"/><circle cx="358.8" cy="607.7" r="11.4"/><circle cx="406.7" cy="608.0" r="11.4"/><circle cx="523.0" cy="683.3" r="11.4"/><circle cx="375.3" cy="594.1" r="11.4"/><circle cx="525.4" cy="621.7" r="11.4"/><circle cx="500.2" cy="635.9" r="11.4"/><circle cx="396.2" cy="610.6" r="11.4"/><circle cx="523.0" cy="668.3" r="11.4"/><circle cx="645.3" cy="695.9" r="11.4"/><circle cx="318.9" cy="607.6" r="11.4"/><circle cx="401.2" cy="626.0" r="11.4"/><circle cx="361.2" cy="635.9" r="11.4"/><circle cx="674.4" cy="687.2" r="11.4"/><circle cx="389.7" cy="561.7" r="11.4"/><circle cx="639.3" cy="699.8" r="11.4"/><circle cx="469.4" cy="613.5" r="11.4"/><circle cx="396.4" cy="621.9" r="11.4"/><circle cx="500.6" cy="641.5" r="11.4"/><circle cx="351.8" cy="639.4" r="11.4"/><circle cx="329.7" cy="628.2" r="11.4"/><circle cx="419.0" cy="601.7" r="11.4"/><circle cx="499.8" cy="620.6" r="11.4"/><circle cx="537.9" cy="632.6" r="11.4"/><circle cx="416.2" cy="632.3" r="11.4"/><circle cx="510.8" cy="660.4" r="11.4"/><circle cx="526.9" cy="657.5" r="11.4"/><circle cx="372.6" cy="573.8" r="11.4"/><circle cx="574.6" cy="668.0" r="11.4"/><circle cx="479.6" cy="600.8" r="11.4"/><circle cx="542.2" cy="650.4" r="11.4"/><circle cx="356.8" cy="630.9" r="11.4"/><circle cx="430.4" cy="626.6" r="11.4"/><circle cx="465.2" cy="625.5" r="11.4"/><circle cx="404.2" cy="644.2" r="11.4"/><circle cx="379.6" cy="631.2" r="11.4"/><circle cx="466.8" cy="653.9" r="11.4"/><circle cx="620.6" cy="693.8" r="11.4"/><circle cx="435.3" cy="612.9" r="11.4"/><circle cx="405.9" cy="587.2" r="11.4"/><circle cx="441.9" cy="600.0" r="11.4"/><circle cx="526.2" cy="640.4" r="11.4"/><circle cx="357.7" cy="642.8" r="11.4"/><circle cx="453.4" cy="609.9" r="11.4"/><circle cx="527.2" cy="627.7" r="11.4"/><circle cx="489.6" cy="626.6" r="11.4"/><circle cx="412.6" cy="564.6" r="11.4"/><circle cx="616.5" cy="662.1" r="11.4"/><circle cx="518.0" cy="657.6" r="11.4"/><circle cx="601.4" cy="678.1" r="11.4"/><circle cx="421.0" cy="589.2" r="11.4"/><circle cx="348.1" cy="607.5" r="11.4"/><circle cx="573.8" cy="647.0" r="11.4"/><circle cx="507.2" cy="634.6" r="11.4"/><circle cx="389.2" cy="593.6" r="11.4"/><circle cx="573.5" cy="680.2" r="11.4"/><circle cx="456.2" cy="619.8" r="11.4"/><circle cx="451.3" cy="632.2" r="11.4"/><circle cx="386.2" cy="642.0" r="11.4"/><circle cx="658.9" cy="691.3" r="11.4"/><circle cx="390.8" cy="655.0" r="11.4"/><circle cx="558.8" cy="644.2" r="11.4"/><circle cx="613.2" cy="682.2" r="11.4"/><circle cx="386.7" cy="587.7" r="11.4"/><circle cx="397.2" cy="559.5" r="11.4"/><circle cx="403.0" cy="653.7" r="11.4"/><circle cx="661.5" cy="687.0" r="11.4"/><circle cx="408.2" cy="624.8" r="11.4"/><circle cx="606.1" cy="692.7" r="11.4"/><circle cx="402.1" cy="618.2" r="11.4"/><circle cx="409.1" cy="576.8" r="11.4"/><circle cx="628.1" cy="680.1" r="11.4"/><circle cx="592.0" cy="645.4" r="11.4"/><circle cx="484.4" cy="640.7" r="11.4"/><circle cx="517.1" cy="648.7" r="11.4"/><circle cx="437.8" cy="622.5" r="11.4"/><circle cx="444.9" cy="627.2" r="11.4"/><circle cx="517.4" cy="631.3" r="11.4"/><circle cx="370.6" cy="606.4" r="11.4"/><circle cx="626.9" cy="671.2" r="11.4"/><circle cx="652.7" cy="687.4" r="11.4"/><circle cx="379.8" cy="622.1" r="11.4"/><circle cx="367.5" cy="634.5" r="11.4"/><circle cx="432.7" cy="602.9" r="11.4"/><circle cx="421.4" cy="597.2" r="11.4"/><circle cx="396.9" cy="564.6" r="11.4"/><circle cx="475.5" cy="622.0" r="11.4"/><circle cx="411.6" cy="606.9" r="11.4"/><circle cx="369.8" cy="590.0" r="11.4"/><circle cx="457.9" cy="652.7" r="11.4"/><circle cx="504.9" cy="619.2" r="11.4"/><circle cx="490.8" cy="652.2" r="11.4"/><circle cx="511.0" cy="646.7" r="11.4"/><circle cx="702.1" cy="699.8" r="11.4"/><circle cx="523.4" cy="661.7" r="11.4"/><circle cx="494.6" cy="661.9" r="11.4"/><circle cx="521.2" cy="644.7" r="11.4"/><circle cx="432.5" cy="650.7" r="11.4"/><circle cx="643.2" cy="674.5" r="11.4"/><circle cx="570.6" cy="662.5" r="11.4"/><circle cx="361.5" cy="613.0" r="11.4"/><circle cx="615.3" cy="696.2" r="11.4"/><circle cx="321.1" cy="601.5" r="11.4"/><circle cx="417.5" cy="645.1" r="11.4"/><circle cx="407.6" cy="567.2" r="11.4"/><circle cx="612.9" cy="688.7" r="11.4"/><circle cx="512.3" cy="637.3" r="11.4"/><circle cx="390.5" cy="648.3" r="11.4"/><circle cx="599.7" cy="670.7" r="11.4"/><circle cx="332.6" cy="602.4" r="11.4"/><circle cx="639.2" cy="683.5" r="11.4"/><circle cx="585.1" cy="677.9" r="11.4"/><circle cx="655.9" cy="680.9" r="11.4"/><circle cx="522.1" cy="651.0" r="11.4"/><circle cx="512.5" cy="626.5" r="11.4"/><circle cx="511.4" cy="620.4" r="11.4"/><circle cx="379.9" cy="600.1" r="11.4"/><circle cx="489.2" cy="637.7" r="11.4"/><circle cx="416.9" cy="650.6" r="11.4"/><circle cx="683.6" cy="698.9" r="11.4"/><circle cx="582.8" cy="667.5" r="11.4"/><circle cx="484.6" cy="610.9" r="11.4"/><circle cx="375.0" cy="611.7" r="11.4"/><circle cx="397.0" cy="598.2" r="11.4"/><circle cx="408.3" cy="632.4" r="11.4"/><circle cx="368.4" cy="643.5" r="11.4"/><circle cx="343.5" cy="619.9" r="11.4"/><circle cx="491.0" cy="666.7" r="11.4"/><circle cx="406.1" cy="600.4" r="11.4"/><circle cx="421.9" cy="631.5" r="11.4"/><circle cx="507.5" cy="665.9" r="11.4"/><circle cx="634.4" cy="681.1" r="11.4"/><circle cx="588.1" cy="683.2" r="11.4"/><circle cx="451.2" cy="590.3" r="11.4"/><circle cx="359.8" cy="619.4" r="11.4"/><circle cx="462.5" cy="603.3" r="11.4"/><circle cx="375.1" cy="636.0" r="11.4"/><circle cx="423.5" cy="626.0" r="11.4"/><circle cx="448.1" cy="619.9" r="11.4"/><circle cx="458.3" cy="607.5" r="11.4"/><circle cx="687.9" cy="703.0" r="11.4"/><circle cx="585.2" cy="660.1" r="11.4"/><circle cx="476.2" cy="648.6" r="11.4"/><circle cx="367.5" cy="571.0" r="11.4"/><circle cx="422.8" cy="609.8" r="11.4"/><circle cx="653.8" cy="692.8" r="11.4"/><circle cx="558.7" cy="685.5" r="11.4"/><circle cx="403.7" cy="562.6" r="11.4"/><circle cx="494.8" cy="623.8" r="11.4"/><circle cx="447.8" cy="597.5" r="11.4"/><circle cx="639.3" cy="691.2" r="11.4"/><circle cx="388.6" cy="626.6" r="11.4"/><circle cx="672.9" cy="694.6" r="11.4"/><circle cx="396.1" cy="654.5" r="11.4"/><circle cx="681.7" cy="704.9" r="11.4"/><circle cx="350.7" cy="619.1" r="11.4"/><circle cx="534.8" cy="656.8" r="11.4"/><circle cx="335.3" cy="613.8" r="11.4"/><circle cx="431.6" cy="639.6" r="11.4"/><circle cx="527.5" cy="680.6" r="11.4"/><circle cx="471.1" cy="664.6" r="11.4"/><circle cx="526.0" cy="647.9" r="11.4"/><circle cx="522.5" cy="632.7" r="11.4"/><circle cx="338.1" cy="629.1" r="11.4"/><circle cx="414.0" cy="599.2" r="11.4"/><circle cx="693.4" cy="700.0" r="11.4"/><circle cx="634.4" cy="697.4" r="11.4"/><circle cx="365.5" cy="601.9" r="11.4"/><circle cx="536.3" cy="673.1" r="11.4"/><circle cx="329.0" cy="596.9" r="11.4"/><circle cx="484.9" cy="659.1" r="11.4"/><circle cx="412.9" cy="627.2" r="11.4"/><circle cx="574.7" cy="685.6" r="11.4"/><circle cx="406.0" cy="614.8" r="11.4"/><circle cx="331.7" cy="622.3" r="11.4"/><circle cx="543.4" cy="660.4" r="11.4"/><circle cx="410.9" cy="641.3" r="11.4"/><circle cx="351.8" cy="586.3" r="11.4"/><circle cx="426.7" cy="617.5" r="11.4"/><circle cx="387.4" cy="570.1" r="11.4"/><circle cx="426.7" cy="596.1" r="11.4"/><circle cx="318.9" cy="618.7" r="11.4"/><circle cx="461.1" cy="611.9" r="11.4"/><circle cx="568.2" cy="690.9" r="11.4"/><circle cx="551.8" cy="675.9" r="11.4"/><circle cx="352.4" cy="578.4" r="11.4"/><circle cx="456.2" cy="596.7" r="11.4"/><circle cx="495.3" cy="649.4" r="11.4"/><circle cx="470.3" cy="631.3" r="11.4"/><circle cx="483.0" cy="623.7" r="11.4"/><circle cx="365.4" cy="648.4" r="11.4"/><circle cx="552.6" cy="641.7" r="11.4"/><circle cx="626.9" cy="701.9" r="11.4"/><circle cx="545.4" cy="629.7" r="11.4"/><circle cx="560.7" cy="665.5" r="11.4"/><circle cx="438.9" cy="646.9" r="11.4"/><circle cx="400.6" cy="555.7" r="11.4"/><circle cx="401.9" cy="610.9" r="11.4"/><circle cx="464.9" cy="645.7" r="11.4"/><circle cx="519.8" cy="675.8" r="11.4"/><circle cx="397.6" cy="631.9" r="11.4"/><circle cx="480.9" cy="635.0" r="11.4"/><circle cx="437.8" cy="628.6" r="11.4"/><circle cx="350.2" cy="593.8" r="11.4"/><circle cx="413.4" cy="573.2" r="11.4"/><circle cx="459.4" cy="660.8" r="11.4"/><circle cx="531.1" cy="677.1" r="11.4"/><circle cx="459.4" cy="625.2" r="11.4"/><circle cx="516.9" cy="619.1" r="11.4"/><circle cx="441.4" cy="632.8" r="11.4"/><circle cx="561.5" cy="638.9" r="11.4"/><circle cx="370.4" cy="580.7" r="11.4"/><circle cx="559.1" cy="675.6" r="11.4"/><circle cx="355.9" cy="593.4" r="11.4"/><circle cx="342.3" cy="634.8" r="11.4"/><circle cx="664.5" cy="681.9" r="11.4"/><circle cx="472.8" cy="626.4" r="11.4"/><circle cx="363.8" cy="578.3" r="11.4"/><circle cx="570.9" cy="654.9" r="11.4"/><circle cx="636.4" cy="674.4" r="11.4"/><circle cx="485.6" cy="669.5" r="11.4"/><circle cx="444.0" cy="643.2" r="11.4"/><circle cx="450.4" cy="614.4" r="11.4"/><circle cx="429.5" cy="587.1" r="11.4"/><circle cx="355.0" cy="599.8" r="11.4"/><circle cx="459.7" cy="641.4" r="11.4"/><circle cx="506.6" cy="640.0" r="11.4"/><circle cx="389.5" cy="610.0" r="11.4"/><circle cx="473.4" cy="594.3" r="11.4"/><circle cx="358.4" cy="577.8" r="11.4"/><circle cx="554.7" cy="656.8" r="11.4"/><circle cx="482.7" cy="616.1" r="11.4"/><circle cx="548.6" cy="669.8" r="11.4"/><circle cx="381.1" cy="650.6" r="11.4"/><circle cx="465.2" cy="658.7" r="11.4"/><circle cx="490.0" cy="607.9" r="11.4"/><circle cx="465.8" cy="608.3" r="11.4"/><circle cx="440.0" cy="588.9" r="11.4"/><circle cx="417.7" cy="560.3" r="11.4"/><circle cx="578.4" cy="663.5" r="11.4"/><circle cx="603.1" cy="685.0" r="11.4"/><circle cx="505.9" cy="658.8" r="11.4"/><circle cx="369.6" cy="619.9" r="11.4"/><circle cx="500.0" cy="626.6" r="11.4"/><circle cx="401.2" cy="576.5" r="11.4"/><circle cx="318.2" cy="612.9" r="11.4"/><circle cx="603.7" cy="647.9" r="11.4"/><circle cx="682.0" cy="685.8" r="11.4"/><circle cx="348.7" cy="581.8" r="11.4"/><circle cx="656.5" cy="672.6" r="11.4"/><circle cx="556.9" cy="692.5" r="11.4"/><circle cx="449.0" cy="654.7" r="11.4"/></g>
<g fill="rgba(255,255,0,1)" stroke="rgba(0,0,0,0.85)" stroke-width="1.5"><circle cx="1214.8" cy="244.6" r="13.9"/><circle cx="1272.2" cy="197.2" r="13.9"/><circle cx="1294.6" cy="212.2" r="13.9"/><circle cx="1309.6" cy="214.7" r="13.9"/><circle cx="1329.6" cy="229.6" r="13.9"/><circle cx="1289.6" cy="209.7" r="13.9"/><circle cx="1274.7" cy="249.6" r="13.9"/><circle cx="1228.5" cy="358.6" r="13.9"/><circle cx="1232.3" cy="372.3" r="13.9"/><circle cx="1289.6" cy="407.3" r="13.9"/><circle cx="1337.0" cy="409.8" r="13.9"/><circle cx="1314.6" cy="436.0" r="13.9"/><circle cx="1317.1" cy="322.4" r="13.9"/><circle cx="1347.0" cy="315.0" r="13.9"/><circle cx="1329.6" cy="300.0" r="13.9"/><circle cx="1234.8" cy="399.8" r="13.9"/><circle cx="1274.7" cy="374.8" r="13.9"/><circle cx="1422.4" cy="247.1" r="13.9"/><circle cx="1365.0" cy="269.6" r="13.9"/><circle cx="1355.0" cy="282.0" r="13.9"/><circle cx="1469.8" cy="259.6" r="13.9"/><circle cx="1467.3" cy="274.6" r="13.9"/><circle cx="1484.7" cy="254.6" r="13.9"/><circle cx="1437.3" cy="282.0" r="13.9"/><circle cx="1554.6" cy="234.6" r="13.9"/><circle cx="1574.6" cy="262.1" r="13.9"/><circle cx="1355.0" cy="315.0" r="13.9"/><circle cx="1373.7" cy="307.5" r="13.9"/><circle cx="1377.4" cy="327.4" r="13.9"/><circle cx="1370.0" cy="364.9" r="13.9"/><circle cx="1414.9" cy="305.0" r="13.9"/><circle cx="1350.0" cy="409.8" r="13.9"/><circle cx="1557.1" cy="394.8" r="13.9"/><circle cx="1579.5" cy="308.7" r="13.9"/><circle cx="1564.6" cy="315.0" r="13.9"/><circle cx="1582.0" cy="329.9" r="13.9"/><circle cx="1574.6" cy="389.8" r="13.9"/><circle cx="1562.1" cy="387.3" r="13.9"/><circle cx="1671.1" cy="576.9" r="13.9"/><circle cx="1768.6" cy="428.1" r="13.9"/><circle cx="1252.0" cy="326.9" r="13.9"/><circle cx="1258.2" cy="355.2" r="13.9"/><circle cx="1238.7" cy="351.6" r="13.9"/><circle cx="1206.3" cy="298.3" r="13.9"/><circle cx="1248.6" cy="272.7" r="13.9"/><circle cx="1301.6" cy="299.6" r="13.9"/><circle cx="1238.0" cy="393.0" r="13.9"/><circle cx="1310.0" cy="356.8" r="13.9"/><circle cx="1286.5" cy="297.4" r="13.9"/><circle cx="1234.2" cy="299.6" r="13.9"/><circle cx="1238.6" cy="376.1" r="13.9"/><circle cx="1288.6" cy="401.7" r="13.9"/><circle cx="1243.1" cy="257.0" r="13.9"/><circle cx="1307.7" cy="333.7" r="13.9"/><circle cx="1235.5" cy="274.7" r="13.9"/><circle cx="1299.6" cy="252.1" r="13.9"/><circle cx="1324.4" cy="326.0" r="13.9"/><circle cx="1308.4" cy="322.7" r="13.9"/><circle cx="1284.7" cy="329.9" r="13.9"/><circle cx="1235.2" cy="315.0" r="13.9"/><circle cx="1290.7" cy="314.0" r="13.9"/><circle cx="1290.2" cy="380.7" r="13.9"/><circle cx="1217.1" cy="269.4" r="13.9"/><circle cx="1324.4" cy="268.2" r="13.9"/><circle cx="1304.5" cy="274.5" r="13.9"/><circle cx="1273.3" cy="397.0" r="13.9"/><circle cx="1255.5" cy="256.2" r="13.9"/><circle cx="1265.4" cy="366.8" r="13.9"/><circle cx="1208.9" cy="281.7" r="13.9"/><circle cx="1270.4" cy="266.5" r="13.9"/><circle cx="1261.4" cy="384.5" r="13.9"/><circle cx="1316.9" cy="283.4" r="13.9"/><circle cx="1244.6" cy="297.2" r="13.9"/><circle cx="1269.9" cy="335.5" r="13.9"/><circle cx="1291.9" cy="365.8" r="13.9"/><circle cx="1227.3" cy="363.8" r="13.9"/><circle cx="1257.3" cy="312.6" r="13.9"/><circle cx="1298.4" cy="351.0" r="13.9"/><circle cx="1286.0" cy="258.9" r="13.9"/><circle cx="1286.3" cy="273.6" r="13.9"/><circle cx="1233.9" cy="330.6" r="13.9"/><circle cx="1314.9" cy="386.7" r="13.9"/><circle cx="1301.5" cy="396.5" r="13.9"/><circle cx="1271.8" cy="348.4" r="13.9"/></g>
<g fill="rgba(240,0,240,0.5)" stroke="rgba(0,0,0,0.85)" stroke-width="1.5"><circle cx="1154.4" cy="222.2" r="13.9"/><circle cx="1189.8" cy="223.4" r="13.9"/><circle cx="1201.1" cy="222.2" r="13.9"/><circle cx="1189.8" cy="278.3" r="13.9"/><circle cx="1201.1" cy="285.8" r="13.9"/><circle cx="1217.3" cy="222.2" r="13.9"/><circle cx="1226.0" cy="219.7" r="13.9"/><circle cx="1234.8" cy="212.2" r="13.9"/><circle cx="1257.2" cy="186.0" r="13.9"/><circle cx="1252.2" cy="199.7" r="13.9"/><circle cx="1248.5" cy="209.7" r="13.9"/><circle cx="1259.7" cy="212.2" r="13.9"/><circle cx="1272.2" cy="224.7" r="13.9"/><circle cx="1282.2" cy="224.7" r="13.9"/><circle cx="1249.7" cy="234.6" r="13.9"/><circle cx="1259.7" cy="239.6" r="13.9"/><circle cx="1269.7" cy="234.6" r="13.9"/><circle cx="1237.2" cy="229.6" r="13.9"/><circle cx="1244.7" cy="242.1" r="13.9"/><circle cx="1253.5" cy="249.6" r="13.9"/><circle cx="1239.7" cy="254.6" r="13.9"/><circle cx="1224.8" cy="249.6" r="13.9"/><circle cx="1317.1" cy="193.5" r="13.9"/><circle cx="1342.0" cy="188.5" r="13.9"/><circle cx="1332.1" cy="247.1" r="13.9"/><circle cx="1322.1" cy="247.1" r="13.9"/><circle cx="1232.3" cy="193.5" r="13.9"/><circle cx="1184.9" cy="291.2" r="13.9"/><circle cx="1194.8" cy="295.0" r="13.9"/><circle cx="1259.7" cy="454.7" r="13.9"/><circle cx="1327.1" cy="462.2" r="13.9"/><circle cx="1329.6" cy="487.1" r="13.9"/><circle cx="1339.5" cy="507.1" r="13.9"/><circle cx="1282.2" cy="483.4" r="13.9"/><circle cx="1292.1" cy="504.6" r="13.9"/><circle cx="1302.1" cy="517.0" r="13.9"/><circle cx="1249.7" cy="497.1" r="13.9"/><circle cx="1269.7" cy="507.1" r="13.9"/><circle cx="1202.3" cy="519.5" r="13.9"/><circle cx="1244.7" cy="523.3" r="13.9"/><circle cx="1257.2" cy="422.2" r="13.9"/><circle cx="1334.6" cy="324.9" r="13.9"/><circle cx="1344.5" cy="329.9" r="13.9"/><circle cx="1273.4" cy="545.0" r="13.9"/><circle cx="1273.4" cy="547.5" r="13.9"/><circle cx="1335.8" cy="545.0" r="13.9"/><circle cx="1251.0" cy="568.7" r="13.9"/><circle cx="1288.4" cy="576.2" r="13.9"/><circle cx="1268.4" cy="598.6" r="13.9"/><circle cx="1269.7" cy="609.8" r="13.9"/><circle cx="1249.7" cy="624.3" r="13.9"/><circle cx="1432.3" cy="172.3" r="13.9"/><circle cx="1429.8" cy="193.5" r="13.9"/><circle cx="1387.4" cy="204.7" r="13.9"/><circle cx="1399.9" cy="199.7" r="13.9"/><circle cx="1375.0" cy="209.7" r="13.9"/><circle cx="1392.4" cy="229.6" r="13.9"/><circle cx="1407.4" cy="234.6" r="13.9"/><circle cx="1424.9" cy="239.6" r="13.9"/><circle cx="1437.3" cy="242.1" r="13.9"/><circle cx="1355.0" cy="184.7" r="13.9"/><circle cx="1357.5" cy="244.6" r="13.9"/><circle cx="1382.4" cy="242.1" r="13.9"/><circle cx="1389.9" cy="269.6" r="13.9"/><circle cx="1474.8" cy="177.2" r="13.9"/><circle cx="1489.7" cy="172.3" r="13.9"/><circle cx="1514.7" cy="177.2" r="13.9"/><circle cx="1462.3" cy="202.2" r="13.9"/><circle cx="1474.8" cy="199.7" r="13.9"/><circle cx="1489.7" cy="194.7" r="13.9"/><circle cx="1502.2" cy="197.2" r="13.9"/><circle cx="1512.2" cy="204.7" r="13.9"/><circle cx="1522.2" cy="204.7" r="13.9"/><circle cx="1529.6" cy="197.2" r="13.9"/><circle cx="1467.3" cy="239.6" r="13.9"/><circle cx="1479.7" cy="244.6" r="13.9"/><circle cx="1489.7" cy="242.1" r="13.9"/><circle cx="1509.7" cy="224.7" r="13.9"/><circle cx="1519.7" cy="229.6" r="13.9"/><circle cx="1499.7" cy="242.1" r="13.9"/><circle cx="1357.5" cy="289.5" r="13.9"/><circle cx="1387.4" cy="284.5" r="13.9"/><circle cx="1464.8" cy="302.5" r="13.9"/><circle cx="1429.8" cy="306.2" r="13.9"/><circle cx="1412.4" cy="305.0" r="13.9"/><circle cx="1479.7" cy="399.8" r="13.9"/><circle cx="1504.7" cy="391.0" r="13.9"/><circle cx="1412.4" cy="436.0" r="13.9"/><circle cx="1429.8" cy="447.2" r="13.9"/><circle cx="1457.3" cy="429.7" r="13.9"/><circle cx="1459.8" cy="437.2" r="13.9"/><circle cx="1444.8" cy="469.6" r="13.9"/><circle cx="1439.8" cy="474.6" r="13.9"/><circle cx="1467.3" cy="474.6" r="13.9"/><circle cx="1387.4" cy="478.4" r="13.9"/><circle cx="1409.9" cy="490.8" r="13.9"/><circle cx="1512.2" cy="472.1" r="13.9"/><circle cx="1532.1" cy="450.9" r="13.9"/><circle cx="1503.4" cy="497.1" r="13.9"/><circle cx="1499.7" cy="517.0" r="13.9"/><circle cx="1514.7" cy="517.0" r="13.9"/><circle cx="1569.6" cy="504.6" r="13.9"/><circle cx="1584.5" cy="494.6" r="13.9"/><circle cx="1514.7" cy="293.7" r="13.9"/><circle cx="1399.9" cy="541.2" r="13.9"/><circle cx="1416.1" cy="598.6" r="13.9"/><circle cx="1438.6" cy="601.1" r="13.9"/><circle cx="1459.8" cy="599.9" r="13.9"/><circle cx="1421.1" cy="636.8" r="13.9"/><circle cx="1467.3" cy="648.5" r="13.9"/><circle cx="1524.7" cy="599.4" r="13.9"/><circle cx="1516.7" cy="629.1" r="13.9"/><circle cx="1582.0" cy="602.4" r="13.9"/><circle cx="1736.5" cy="601.9" r="13.9"/><circle cx="1740.4" cy="623.6" r="13.9"/><circle cx="1592.5" cy="494.6" r="13.9"/><circle cx="1620.0" cy="516.0" r="13.9"/><circle cx="1828.0" cy="320.6" r="13.9"/><circle cx="1554.3" cy="439.0" r="13.9"/><circle cx="1205.8" cy="235.9" r="13.9"/><circle cx="1207.8" cy="222.7" r="13.9"/><circle cx="1240.2" cy="220.3" r="13.9"/><circle cx="1262.6" cy="245.6" r="13.9"/><circle cx="1281.1" cy="201.6" r="13.9"/><circle cx="1253.2" cy="225.6" r="13.9"/><circle cx="1254.0" cy="208.3" r="13.9"/><circle cx="1239.9" cy="256.1" r="13.9"/><circle cx="1263.7" cy="233.6" r="13.9"/><circle cx="1224.1" cy="247.5" r="13.9"/><circle cx="1247.7" cy="191.8" r="13.9"/><circle cx="1289.7" cy="233.5" r="13.9"/><circle cx="1279.1" cy="237.5" r="13.9"/><circle cx="1216.2" cy="215.6" r="13.9"/><circle cx="1201.5" cy="211.1" r="13.9"/><circle cx="1273.6" cy="217.5" r="13.9"/><circle cx="1285.8" cy="254.7" r="13.9"/></g>
<g fill="rgba(0,120,62,0.65)" stroke="rgba(0,0,0,0.85)" stroke-width="1.5"><circle cx="1224.8" cy="272.1" r="13.9"/><circle cx="1232.3" cy="279.5" r="13.9"/><circle cx="1259.7" cy="264.6" r="13.9"/><circle cx="1269.7" cy="274.6" r="13.9"/><circle cx="1249.7" cy="277.0" r="13.9"/><circle cx="1289.6" cy="267.1" r="13.9"/><circle cx="1307.1" cy="247.1" r="13.9"/><circle cx="1314.6" cy="249.6" r="13.9"/><circle cx="1327.1" cy="269.6" r="13.9"/><circle cx="1299.6" cy="274.6" r="13.9"/><circle cx="1209.8" cy="302.5" r="13.9"/><circle cx="1222.3" cy="317.4" r="13.9"/><circle cx="1234.8" cy="300.0" r="13.9"/><circle cx="1249.7" cy="295.0" r="13.9"/><circle cx="1264.7" cy="305.0" r="13.9"/><circle cx="1259.7" cy="324.9" r="13.9"/><circle cx="1249.7" cy="324.9" r="13.9"/><circle cx="1244.7" cy="332.4" r="13.9"/><circle cx="1284.7" cy="315.0" r="13.9"/><circle cx="1274.7" cy="297.5" r="13.9"/><circle cx="1299.6" cy="305.0" r="13.9"/><circle cx="1317.1" cy="300.0" r="13.9"/><circle cx="1284.7" cy="339.9" r="13.9"/><circle cx="1294.6" cy="339.9" r="13.9"/><circle cx="1289.6" cy="359.9" r="13.9"/><circle cx="1309.6" cy="379.8" r="13.9"/><circle cx="1324.6" cy="362.4" r="13.9"/><circle cx="1269.7" cy="364.9" r="13.9"/><circle cx="1254.7" cy="362.4" r="13.9"/><circle cx="1249.7" cy="389.8" r="13.9"/><circle cx="1239.7" cy="389.8" r="13.9"/><circle cx="1259.7" cy="394.8" r="13.9"/><circle cx="1282.2" cy="392.3" r="13.9"/><circle cx="1284.7" cy="402.3" r="13.9"/><circle cx="1312.1" cy="404.8" r="13.9"/><circle cx="1237.2" cy="432.2" r="13.9"/><circle cx="1262.2" cy="469.6" r="13.9"/><circle cx="1254.7" cy="502.1" r="13.9"/><circle cx="1222.3" cy="322.4" r="13.9"/><circle cx="1300.9" cy="576.2" r="13.9"/><circle cx="1251.5" cy="683.4" r="13.9"/><circle cx="1671.6" cy="648.5" r="13.9"/><circle cx="1272.9" cy="379.1" r="13.9"/><circle cx="1242.7" cy="372.6" r="13.9"/><circle cx="1291.0" cy="267.6" r="13.9"/><circle cx="1254.9" cy="369.4" r="13.9"/><circle cx="1270.2" cy="300.8" r="13.9"/><circle cx="1318.8" cy="274.1" r="13.9"/><circle cx="1277.7" cy="402.8" r="13.9"/><circle cx="1275.2" cy="391.2" r="13.9"/><circle cx="1245.2" cy="263.1" r="13.9"/><circle cx="1236.1" cy="339.1" r="13.9"/><circle cx="1307.2" cy="280.8" r="13.9"/><circle cx="1277.2" cy="338.6" r="13.9"/><circle cx="1290.6" cy="396.6" r="13.9"/><circle cx="1248.2" cy="395.4" r="13.9"/><circle cx="1302.9" cy="305.7" r="13.9"/><circle cx="1240.4" cy="351.3" r="13.9"/><circle cx="1278.3" cy="359.8" r="13.9"/><circle cx="1255.9" cy="281.3" r="13.9"/><circle cx="1224.6" cy="267.7" r="13.9"/><circle cx="1314.5" cy="335.9" r="13.9"/><circle cx="1314.1" cy="355.2" r="13.9"/><circle cx="1226.2" cy="297.2" r="13.9"/></g>
<g fill="rgba(0,240,255,0.55)" stroke="rgba(0,0,0,0.85)" stroke-width="1.5"><circle cx="1292.1" cy="282.0" r="13.9"/><circle cx="1277.2" cy="285.8" r="13.9"/><circle cx="1339.5" cy="283.3" r="13.9"/><circle cx="1279.7" cy="297.5" r="13.9"/><circle cx="1297.1" cy="292.5" r="13.9"/><circle cx="1342.0" cy="295.0" r="13.9"/><circle cx="1267.2" cy="359.9" r="13.9"/><circle cx="1309.6" cy="351.1" r="13.9"/><circle cx="1324.6" cy="336.2" r="13.9"/><circle cx="1349.5" cy="382.3" r="13.9"/><circle cx="1251.0" cy="414.8" r="13.9"/><circle cx="1412.4" cy="174.8" r="13.9"/><circle cx="1535.9" cy="249.6" r="13.9"/><circle cx="1547.1" cy="269.6" r="13.9"/><circle cx="1529.6" cy="269.6" r="13.9"/><circle cx="1534.6" cy="282.0" r="13.9"/><circle cx="1499.7" cy="282.0" r="13.9"/><circle cx="1487.2" cy="279.5" r="13.9"/><circle cx="1474.8" cy="279.5" r="13.9"/><circle cx="1355.0" cy="282.0" r="13.9"/><circle cx="1574.6" cy="262.1" r="13.9"/><circle cx="1352.5" cy="382.3" r="13.9"/><circle cx="1391.2" cy="369.8" r="13.9"/><circle cx="1399.9" cy="336.2" r="13.9"/><circle cx="1419.9" cy="329.9" r="13.9"/><circle cx="1432.3" cy="332.4" r="13.9"/><circle cx="1436.1" cy="349.9" r="13.9"/><circle cx="1437.3" cy="342.4" r="13.9"/><circle cx="1459.8" cy="334.9" r="13.9"/><circle cx="1454.8" cy="367.3" r="13.9"/><circle cx="1487.2" cy="312.5" r="13.9"/><circle cx="1479.7" cy="295.0" r="13.9"/><circle cx="1509.7" cy="319.9" r="13.9"/><circle cx="1539.6" cy="295.0" r="13.9"/><circle cx="1534.6" cy="374.8" r="13.9"/><circle cx="1557.1" cy="295.0" r="13.9"/><circle cx="1579.5" cy="295.0" r="13.9"/><circle cx="1584.5" cy="369.8" r="13.9"/><circle cx="1575.8" cy="372.3" r="13.9"/><circle cx="1584.5" cy="414.8" r="13.9"/><circle cx="1557.1" cy="434.7" r="13.9"/><circle cx="1562.1" cy="429.7" r="13.9"/><circle cx="1418.6" cy="458.4" r="13.9"/><circle cx="1479.7" cy="480.9" r="13.9"/><circle cx="1454.8" cy="515.8" r="13.9"/><circle cx="1589.5" cy="522.0" r="13.9"/><circle cx="1564.6" cy="315.0" r="13.9"/><circle cx="1582.0" cy="329.9" r="13.9"/><circle cx="1574.6" cy="389.8" r="13.9"/><circle cx="1562.1" cy="387.3" r="13.9"/><circle cx="1552.1" cy="566.2" r="13.9"/><circle cx="1577.0" cy="612.3" r="13.9"/><circle cx="1492.7" cy="700.9" r="13.9"/><circle cx="1701.0" cy="546.2" r="13.9"/><circle cx="1732.2" cy="559.9" r="13.9"/><circle cx="1708.5" cy="584.9" r="13.9"/><circle cx="1694.8" cy="648.5" r="13.9"/><circle cx="1691.0" cy="664.7" r="13.9"/><circle cx="1621.9" cy="705.9" r="13.9"/><circle cx="1710.3" cy="713.4" r="13.9"/><circle cx="1653.1" cy="747.1" r="13.9"/><circle cx="1605.0" cy="494.6" r="13.9"/><circle cx="1641.1" cy="489.6" r="13.9"/><circle cx="1664.9" cy="484.6" r="13.9"/><circle cx="1669.8" cy="505.8" r="13.9"/><circle cx="1627.4" cy="502.1" r="13.9"/><circle cx="1651.1" cy="525.0" r="13.9"/><circle cx="1600.0" cy="525.0" r="13.9"/><circle cx="1687.3" cy="528.0" r="13.9"/><circle cx="1707.3" cy="528.0" r="13.9"/><circle cx="1742.2" cy="525.0" r="13.9"/><circle cx="1783.4" cy="470.9" r="13.9"/><circle cx="1726.0" cy="474.6" r="13.9"/><circle cx="1714.7" cy="479.6" r="13.9"/><circle cx="1658.1" cy="378.4" r="13.9"/><circle cx="1661.0" cy="366.4" r="13.9"/><circle cx="1600.0" cy="367.4" r="13.9"/><circle cx="1735.5" cy="409.0" r="13.9"/><circle cx="1701.8" cy="391.1" r="13.9"/><circle cx="1572.9" cy="293.6" r="13.9"/><circle cx="1742.6" cy="369.0" r="13.9"/><circle cx="1668.4" cy="401.9" r="13.9"/><circle cx="1713.5" cy="322.3" r="13.9"/><circle cx="1726.1" cy="341.8" r="13.9"/><circle cx="1598.5" cy="378.2" r="13.9"/><circle cx="1601.3" cy="417.8" r="13.9"/><circle cx="1651.2" cy="298.8" r="13.9"/><circle cx="1625.9" cy="452.9" r="13.9"/><circle cx="1645.5" cy="445.9" r="13.9"/><circle cx="1606.2" cy="309.2" r="13.9"/><circle cx="1631.3" cy="317.9" r="13.9"/><circle cx="1579.5" cy="383.6" r="13.9"/><circle cx="1690.4" cy="335.2" r="13.9"/><circle cx="1751.3" cy="388.4" r="13.9"/><circle cx="1738.6" cy="386.8" r="13.9"/><circle cx="1609.5" cy="378.3" r="13.9"/><circle cx="1693.2" cy="314.3" r="13.9"/><circle cx="1618.4" cy="352.2" r="13.9"/><circle cx="1598.2" cy="334.6" r="13.9"/><circle cx="1588.5" cy="333.0" r="13.9"/><circle cx="1709.9" cy="384.0" r="13.9"/><circle cx="1757.3" cy="410.7" r="13.9"/><circle cx="1664.5" cy="417.5" r="13.9"/><circle cx="1678.4" cy="419.0" r="13.9"/><circle cx="1719.8" cy="411.4" r="13.9"/><circle cx="1708.5" cy="456.6" r="13.9"/><circle cx="1650.4" cy="431.3" r="13.9"/><circle cx="1684.2" cy="393.3" r="13.9"/><circle cx="1750.7" cy="417.0" r="13.9"/><circle cx="1719.4" cy="383.2" r="13.9"/><circle cx="1690.4" cy="360.3" r="13.9"/><circle cx="1711.4" cy="364.0" r="13.9"/><circle cx="1703.1" cy="351.3" r="13.9"/><circle cx="1630.9" cy="402.7" r="13.9"/><circle cx="1750.8" cy="338.1" r="13.9"/><circle cx="1667.6" cy="441.9" r="13.9"/><circle cx="1714.2" cy="467.8" r="13.9"/><circle cx="1596.7" cy="353.3" r="13.9"/><circle cx="1606.4" cy="344.9" r="13.9"/><circle cx="1667.1" cy="322.3" r="13.9"/><circle cx="1702.0" cy="435.1" r="13.9"/><circle cx="1619.0" cy="329.3" r="13.9"/><circle cx="1672.8" cy="390.9" r="13.9"/><circle cx="1658.3" cy="393.4" r="13.9"/><circle cx="1641.7" cy="380.4" r="13.9"/><circle cx="1732.7" cy="466.5" r="13.9"/><circle cx="1716.5" cy="437.6" r="13.9"/><circle cx="1632.6" cy="430.7" r="13.9"/><circle cx="1578.6" cy="300.8" r="13.9"/><circle cx="1622.9" cy="417.1" r="13.9"/><circle cx="1627.6" cy="337.4" r="13.9"/><circle cx="1673.7" cy="381.4" r="13.9"/><circle cx="1676.2" cy="365.4" r="13.9"/><circle cx="1671.9" cy="341.9" r="13.9"/><circle cx="1574.3" cy="373.5" r="13.9"/><circle cx="1694.0" cy="462.2" r="13.9"/><circle cx="1586.6" cy="367.1" r="13.9"/><circle cx="1641.5" cy="344.8" r="13.9"/><circle cx="1594.6" cy="296.8" r="13.9"/><circle cx="1698.4" cy="371.4" r="13.9"/><circle cx="1692.6" cy="446.5" r="13.9"/><circle cx="1611.9" cy="416.6" r="13.9"/><circle cx="1647.3" cy="407.1" r="13.9"/><circle cx="1603.6" cy="406.5" r="13.9"/><circle cx="1575.3" cy="274.3" r="13.9"/><circle cx="1696.5" cy="342.8" r="13.9"/><circle cx="1736.6" cy="343.0" r="13.9"/><circle cx="1575.3" cy="328.4" r="13.9"/><circle cx="1704.4" cy="327.5" r="13.9"/><circle cx="1683.5" cy="372.2" r="13.9"/><circle cx="1712.0" cy="424.7" r="13.9"/><circle cx="1614.4" cy="457.7" r="13.9"/><circle cx="1689.5" cy="424.1" r="13.9"/><circle cx="1593.9" cy="423.0" r="13.9"/><circle cx="1653.1" cy="359.5" r="13.9"/><circle cx="1656.0" cy="403.1" r="13.9"/><circle cx="1728.7" cy="371.7" r="13.9"/><circle cx="1766.5" cy="418.4" r="13.9"/><circle cx="1730.0" cy="393.3" r="13.9"/><circle cx="1618.9" cy="407.1" r="13.9"/><circle cx="1568.6" cy="263.9" r="13.9"/><circle cx="1663.8" cy="298.3" r="13.9"/><circle cx="1652.0" cy="309.2" r="13.9"/><circle cx="1640.0" cy="399.9" r="13.9"/><circle cx="1630.5" cy="375.8" r="13.9"/><circle cx="1759.6" cy="348.1" r="13.9"/><circle cx="1637.6" cy="416.5" r="13.9"/><circle cx="1677.2" cy="441.8" r="13.9"/></g>
<g fill="rgba(0,27,237,0.57)" stroke="rgba(0,0,0,0.85)" stroke-width="1.5"><circle cx="1231.0" cy="179.7" r="13.9"/><circle cx="1201.1" cy="198.5" r="13.9"/><circle cx="1295.9" cy="176.0" r="13.9"/><circle cx="1307.1" cy="188.5" r="13.9"/><circle cx="1344.5" cy="166.0" r="13.9"/><circle cx="1332.1" cy="213.4" r="13.9"/><circle cx="1344.5" cy="217.2" r="13.9"/><circle cx="1342.0" cy="262.1" r="13.9"/><circle cx="1399.9" cy="101.1" r="13.9"/><circle cx="1366.2" cy="141.1" r="13.9"/><circle cx="1486.0" cy="147.3" r="13.9"/><circle cx="1352.5" cy="164.8" r="13.9"/><circle cx="1412.4" cy="189.7" r="13.9"/><circle cx="1413.6" cy="197.2" r="13.9"/><circle cx="1438.6" cy="217.2" r="13.9"/><circle cx="1442.3" cy="219.7" r="13.9"/><circle cx="1357.5" cy="204.7" r="13.9"/><circle cx="1360.0" cy="224.7" r="13.9"/><circle cx="1489.7" cy="222.2" r="13.9"/><circle cx="1494.7" cy="224.7" r="13.9"/><circle cx="1552.1" cy="181.0" r="13.9"/><circle cx="1557.1" cy="194.7" r="13.9"/><circle cx="1539.6" cy="214.7" r="13.9"/><circle cx="1584.5" cy="202.2" r="13.9"/><circle cx="1577.0" cy="232.1" r="13.9"/><circle cx="1557.1" cy="227.1" r="13.9"/><circle cx="1507.2" cy="259.6" r="13.9"/><circle cx="1514.7" cy="262.1" r="13.9"/><circle cx="1352.5" cy="262.1" r="13.9"/><circle cx="1437.3" cy="274.6" r="13.9"/><circle cx="1584.5" cy="259.6" r="13.9"/><circle cx="1387.4" cy="301.2" r="13.9"/><circle cx="1375.0" cy="343.6" r="13.9"/><circle cx="1519.7" cy="319.9" r="13.9"/><circle cx="1524.7" cy="317.4" r="13.9"/><circle cx="1539.6" cy="348.6" r="13.9"/><circle cx="1557.1" cy="342.4" r="13.9"/><circle cx="1552.1" cy="367.3" r="13.9"/><circle cx="1554.6" cy="371.1" r="13.9"/><circle cx="1588.3" cy="305.0" r="13.9"/><circle cx="1766.1" cy="658.5" r="13.9"/><circle cx="1596.5" cy="180.3" r="13.9"/><circle cx="1604.9" cy="202.8" r="13.9"/><circle cx="1599.3" cy="225.2" r="13.9"/><circle cx="1621.7" cy="155.0" r="13.9"/><circle cx="1585.2" cy="211.2" r="13.9"/><circle cx="1612.0" cy="190.0" r="13.9"/><circle cx="1610.0" cy="250.0" r="13.9"/><circle cx="1600.0" cy="265.0" r="13.9"/><circle cx="1806.3" cy="401.8" r="13.9"/><circle cx="1627.4" cy="528.0" r="13.9"/><circle cx="1725.2" cy="377.8" r="13.9"/><circle cx="1704.6" cy="338.9" r="13.9"/><circle cx="1764.0" cy="341.2" r="13.9"/><circle cx="1623.0" cy="115.3" r="13.9"/><circle cx="1636.8" cy="131.1" r="13.9"/><circle cx="1674.3" cy="115.3" r="13.9"/><circle cx="1551.9" cy="178.5" r="13.9"/><circle cx="1563.7" cy="198.3" r="13.9"/><circle cx="1547.9" cy="218.0" r="13.9"/><circle cx="1555.8" cy="352.3" r="13.9"/><circle cx="1547.9" cy="364.2" r="13.9"/><circle cx="1555.8" cy="340.5" r="13.9"/><circle cx="1591.4" cy="301.0" r="13.9"/><circle cx="1791.8" cy="121.8" r="13.9"/><circle cx="1765.6" cy="97.4" r="13.9"/><circle cx="1717.4" cy="234.8" r="13.9"/><circle cx="1694.8" cy="156.2" r="13.9"/><circle cx="1766.3" cy="223.3" r="13.9"/><circle cx="1759.7" cy="129.8" r="13.9"/><circle cx="1646.7" cy="285.7" r="13.9"/><circle cx="1765.5" cy="169.1" r="13.9"/><circle cx="1705.8" cy="127.7" r="13.9"/><circle cx="1750.6" cy="133.5" r="13.9"/><circle cx="1794.6" cy="182.1" r="13.9"/><circle cx="1744.9" cy="197.7" r="13.9"/><circle cx="1690.6" cy="174.4" r="13.9"/><circle cx="1762.5" cy="123.3" r="13.9"/><circle cx="1692.2" cy="204.8" r="13.9"/><circle cx="1707.3" cy="206.4" r="13.9"/><circle cx="1706.7" cy="179.6" r="13.9"/><circle cx="1633.2" cy="212.7" r="13.9"/><circle cx="1767.5" cy="107.6" r="13.9"/><circle cx="1687.9" cy="230.6" r="13.9"/><circle cx="1713.9" cy="142.8" r="13.9"/><circle cx="1717.8" cy="296.5" r="13.9"/><circle cx="1819.2" cy="174.7" r="13.9"/><circle cx="1779.4" cy="287.0" r="13.9"/><circle cx="1670.7" cy="258.0" r="13.9"/><circle cx="1836.0" cy="203.2" r="13.9"/><circle cx="1683.0" cy="261.4" r="13.9"/><circle cx="1754.7" cy="147.1" r="13.9"/><circle cx="1718.0" cy="228.5" r="13.9"/><circle cx="1646.7" cy="159.7" r="13.9"/><circle cx="1673.0" cy="293.5" r="13.9"/><circle cx="1767.5" cy="244.5" r="13.9"/><circle cx="1674.5" cy="152.3" r="13.9"/><circle cx="1705.1" cy="149.5" r="13.9"/><circle cx="1782.1" cy="185.6" r="13.9"/><circle cx="1816.0" cy="209.7" r="13.9"/><circle cx="1695.9" cy="120.2" r="13.9"/><circle cx="1680.6" cy="291.5" r="13.9"/><circle cx="1732.6" cy="227.5" r="13.9"/><circle cx="1730.9" cy="243.6" r="13.9"/><circle cx="1665.6" cy="183.4" r="13.9"/><circle cx="1680.7" cy="242.6" r="13.9"/><circle cx="1759.2" cy="291.6" r="13.9"/><circle cx="1710.4" cy="136.8" r="13.9"/><circle cx="1687.2" cy="148.9" r="13.9"/><circle cx="1723.4" cy="243.1" r="13.9"/><circle cx="1666.5" cy="194.2" r="13.9"/><circle cx="1798.2" cy="146.6" r="13.9"/><circle cx="1735.3" cy="239.6" r="13.9"/><circle cx="1775.7" cy="166.1" r="13.9"/><circle cx="1691.7" cy="163.0" r="13.9"/><circle cx="1661.1" cy="211.6" r="13.9"/><circle cx="1620.4" cy="264.7" r="13.9"/><circle cx="1821.8" cy="222.8" r="13.9"/><circle cx="1682.6" cy="125.8" r="13.9"/><circle cx="1800.7" cy="224.7" r="13.9"/><circle cx="1703.3" cy="226.6" r="13.9"/><circle cx="1700.4" cy="265.5" r="13.9"/><circle cx="1656.4" cy="152.2" r="13.9"/><circle cx="1728.3" cy="110.8" r="13.9"/><circle cx="1807.7" cy="268.3" r="13.9"/><circle cx="1772.0" cy="160.8" r="13.9"/><circle cx="1651.7" cy="164.0" r="13.9"/><circle cx="1747.3" cy="121.0" r="13.9"/><circle cx="1731.4" cy="191.9" r="13.9"/><circle cx="1757.4" cy="264.1" r="13.9"/><circle cx="1753.8" cy="195.8" r="13.9"/><circle cx="1697.9" cy="185.0" r="13.9"/><circle cx="1721.2" cy="275.4" r="13.9"/><circle cx="1799.9" cy="126.5" r="13.9"/><circle cx="1819.6" cy="197.5" r="13.9"/><circle cx="1745.8" cy="237.2" r="13.9"/><circle cx="1661.7" cy="198.9" r="13.9"/><circle cx="1796.9" cy="255.2" r="13.9"/><circle cx="1696.4" cy="276.8" r="13.9"/><circle cx="1719.8" cy="139.9" r="13.9"/><circle cx="1731.3" cy="174.1" r="13.9"/><circle cx="1697.2" cy="225.5" r="13.9"/><circle cx="1776.8" cy="229.5" r="13.9"/><circle cx="1689.2" cy="292.3" r="13.9"/><circle cx="1726.7" cy="232.7" r="13.9"/><circle cx="1762.5" cy="135.2" r="13.9"/><circle cx="1674.0" cy="272.4" r="13.9"/><circle cx="1654.4" cy="230.8" r="13.9"/><circle cx="1713.7" cy="292.1" r="13.9"/><circle cx="1715.3" cy="173.7" r="13.9"/><circle cx="1780.1" cy="149.0" r="13.9"/><circle cx="1774.4" cy="202.8" r="13.9"/><circle cx="1749.4" cy="246.4" r="13.9"/><circle cx="1811.5" cy="261.9" r="13.9"/><circle cx="1644.3" cy="271.5" r="13.9"/><circle cx="1681.1" cy="153.1" r="13.9"/><circle cx="1636.4" cy="163.0" r="13.9"/><circle cx="1637.6" cy="270.5" r="13.9"/><circle cx="1720.9" cy="223.3" r="13.9"/><circle cx="1789.1" cy="153.4" r="13.9"/><circle cx="1799.9" cy="232.0" r="13.9"/><circle cx="1691.3" cy="182.0" r="13.9"/><circle cx="1734.4" cy="211.5" r="13.9"/><circle cx="1694.3" cy="284.6" r="13.9"/><circle cx="1790.2" cy="208.2" r="13.9"/><circle cx="1728.6" cy="259.3" r="13.9"/><circle cx="1806.7" cy="233.3" r="13.9"/><circle cx="1674.9" cy="116.8" r="13.9"/><circle cx="1641.8" cy="223.6" r="13.9"/><circle cx="1828.6" cy="209.2" r="13.9"/><circle cx="1673.9" cy="216.7" r="13.9"/><circle cx="1780.1" cy="268.9" r="13.9"/><circle cx="1750.8" cy="173.4" r="13.9"/><circle cx="1720.9" cy="185.1" r="13.9"/><circle cx="1677.6" cy="278.8" r="13.9"/><circle cx="1769.9" cy="141.9" r="13.9"/><circle cx="1649.7" cy="188.3" r="13.9"/><circle cx="1759.4" cy="198.4" r="13.9"/><circle cx="1631.3" cy="198.2" r="13.9"/><circle cx="1821.0" cy="205.4" r="13.9"/><circle cx="1715.9" cy="259.1" r="13.9"/><circle cx="1716.7" cy="191.8" r="13.9"/><circle cx="1655.6" cy="184.3" r="13.9"/><circle cx="1751.3" cy="167.2" r="13.9"/><circle cx="1764.8" cy="205.9" r="13.9"/><circle cx="1698.6" cy="141.1" r="13.9"/><circle cx="1816.8" cy="233.3" r="13.9"/><circle cx="1642.6" cy="211.0" r="13.9"/><circle cx="1683.4" cy="220.4" r="13.9"/><circle cx="1662.8" cy="249.7" r="13.9"/><circle cx="1811.3" cy="132.6" r="13.9"/><circle cx="1735.9" cy="130.5" r="13.9"/><circle cx="1722.1" cy="286.4" r="13.9"/><circle cx="1804.5" cy="153.4" r="13.9"/><circle cx="1776.2" cy="128.8" r="13.9"/><circle cx="1800.1" cy="209.9" r="13.9"/><circle cx="1811.2" cy="153.9" r="13.9"/><circle cx="1636.9" cy="234.9" r="13.9"/><circle cx="1744.7" cy="252.2" r="13.9"/><circle cx="1671.9" cy="242.7" r="13.9"/><circle cx="1817.3" cy="180.5" r="13.9"/><circle cx="1758.1" cy="241.8" r="13.9"/><circle cx="1765.6" cy="252.6" r="13.9"/><circle cx="1680.7" cy="161.1" r="13.9"/><circle cx="1620.6" cy="279.1" r="13.9"/><circle cx="1698.8" cy="164.1" r="13.9"/><circle cx="1634.4" cy="186.9" r="13.9"/><circle cx="1779.8" cy="172.2" r="13.9"/><circle cx="1644.1" cy="191.2" r="13.9"/><circle cx="1624.0" cy="197.1" r="13.9"/><circle cx="1776.2" cy="257.4" r="13.9"/><circle cx="1786.1" cy="218.9" r="13.9"/><circle cx="1733.9" cy="183.0" r="13.9"/><circle cx="1684.7" cy="247.6" r="13.9"/><circle cx="1719.0" cy="207.8" r="13.9"/><circle cx="1736.6" cy="280.7" r="13.9"/><circle cx="1660.6" cy="222.4" r="13.9"/><circle cx="1737.4" cy="192.7" r="13.9"/><circle cx="1769.5" cy="277.7" r="13.9"/><circle cx="1711.2" cy="263.7" r="13.9"/><circle cx="1761.5" cy="230.7" r="13.9"/><circle cx="1665.4" cy="289.4" r="13.9"/><circle cx="1804.0" cy="256.6" r="13.9"/><circle cx="1732.4" cy="118.8" r="13.9"/><circle cx="1708.0" cy="254.9" r="13.9"/><circle cx="1637.6" cy="178.6" r="13.9"/><circle cx="1711.0" cy="223.4" r="13.9"/><circle cx="1649.6" cy="221.2" r="13.9"/><circle cx="1801.7" cy="181.5" r="13.9"/><circle cx="1789.6" cy="185.9" r="13.9"/><circle cx="1641.9" cy="241.8" r="13.9"/><circle cx="1789.0" cy="252.9" r="13.9"/><circle cx="1742.0" cy="125.1" r="13.9"/><circle cx="1635.0" cy="218.9" r="13.9"/><circle cx="1812.8" cy="246.8" r="13.9"/><circle cx="1763.8" cy="274.7" r="13.9"/><circle cx="1654.8" cy="252.1" r="13.9"/><circle cx="1636.6" cy="193.8" r="13.9"/><circle cx="1694.4" cy="252.5" r="13.9"/><circle cx="1795.4" cy="267.5" r="13.9"/><circle cx="1772.6" cy="184.9" r="13.9"/><circle cx="1683.5" cy="194.7" r="13.9"/><circle cx="1812.4" cy="225.7" r="13.9"/><circle cx="1726.0" cy="126.8" r="13.9"/><circle cx="1787.2" cy="175.1" r="13.9"/><circle cx="1829.1" cy="227.0" r="13.9"/><circle cx="1702.1" cy="117.8" r="13.9"/><circle cx="1827.8" cy="152.5" r="13.9"/><circle cx="1640.3" cy="201.7" r="13.9"/><circle cx="1739.9" cy="260.4" r="13.9"/><circle cx="1637.4" cy="256.1" r="13.9"/><circle cx="1701.7" cy="170.1" r="13.9"/><circle cx="1812.8" cy="142.4" r="13.9"/><circle cx="1630.2" cy="205.6" r="13.9"/><circle cx="1799.1" cy="240.2" r="13.9"/><circle cx="1738.9" cy="204.6" r="13.9"/><circle cx="1725.0" cy="164.7" r="13.9"/><circle cx="1775.3" cy="178.5" r="13.9"/><circle cx="1728.9" cy="266.2" r="13.9"/><circle cx="1743.7" cy="214.8" r="13.9"/><circle cx="1736.5" cy="112.0" r="13.9"/><circle cx="1771.5" cy="219.1" r="13.9"/><circle cx="1725.0" cy="151.6" r="13.9"/><circle cx="1761.4" cy="173.6" r="13.9"/><circle cx="1759.8" cy="215.0" r="13.9"/><circle cx="1672.4" cy="171.0" r="13.9"/><circle cx="1624.6" cy="283.9" r="13.9"/><circle cx="1626.6" cy="178.3" r="13.9"/><circle cx="1679.5" cy="229.2" r="13.9"/><circle cx="1735.7" cy="253.8" r="13.9"/><circle cx="1653.8" cy="286.4" r="13.9"/><circle cx="1771.4" cy="261.5" r="13.9"/><circle cx="1683.3" cy="200.7" r="13.9"/><circle cx="1667.6" cy="147.7" r="13.9"/><circle cx="1807.6" cy="165.8" r="13.9"/><circle cx="1710.8" cy="155.6" r="13.9"/><circle cx="1793.0" cy="245.0" r="13.9"/><circle cx="1737.0" cy="171.9" r="13.9"/><circle cx="1685.7" cy="267.1" r="13.9"/><circle cx="1749.4" cy="272.8" r="13.9"/><circle cx="1750.7" cy="141.0" r="13.9"/><circle cx="1797.9" cy="163.1" r="13.9"/><circle cx="1740.9" cy="185.6" r="13.9"/><circle cx="1650.7" cy="204.9" r="13.9"/><circle cx="1649.0" cy="179.7" r="13.9"/><circle cx="1681.1" cy="212.6" r="13.9"/><circle cx="1668.8" cy="204.5" r="13.9"/><circle cx="1782.1" cy="235.7" r="13.9"/><circle cx="1788.0" cy="269.4" r="13.9"/><circle cx="1663.3" cy="270.3" r="13.9"/><circle cx="1805.0" cy="201.1" r="13.9"/><circle cx="1812.6" cy="254.9" r="13.9"/><circle cx="1661.2" cy="178.8" r="13.9"/><circle cx="1652.1" cy="246.1" r="13.9"/><circle cx="1622.3" cy="232.6" r="13.9"/><circle cx="1726.9" cy="213.3" r="13.9"/><circle cx="1683.4" cy="254.1" r="13.9"/><circle cx="1695.0" cy="126.6" r="13.9"/><circle cx="1754.6" cy="253.2" r="13.9"/><circle cx="1777.2" cy="194.6" r="13.9"/><circle cx="1763.9" cy="157.8" r="13.9"/><circle cx="1754.9" cy="157.1" r="13.9"/><circle cx="1626.0" cy="268.2" r="13.9"/><circle cx="1741.2" cy="101.9" r="13.9"/><circle cx="1689.8" cy="278.3" r="13.9"/><circle cx="1656.5" cy="239.4" r="13.9"/><circle cx="1709.4" cy="244.5" r="13.9"/><circle cx="1706.4" cy="236.6" r="13.9"/><circle cx="1671.6" cy="157.6" r="13.9"/><circle cx="1759.6" cy="110.0" r="13.9"/><circle cx="1735.6" cy="141.5" r="13.9"/><circle cx="1705.5" cy="215.5" r="13.9"/><circle cx="1679.7" cy="168.8" r="13.9"/><circle cx="1823.2" cy="230.1" r="13.9"/><circle cx="1753.8" cy="312.4" r="13.9"/><circle cx="1744.2" cy="389.3" r="13.9"/><circle cx="1667.0" cy="332.2" r="13.9"/><circle cx="1764.6" cy="319.6" r="13.9"/><circle cx="1714.5" cy="320.5" r="13.9"/><circle cx="1698.5" cy="303.7" r="13.9"/><circle cx="1688.0" cy="357.7" r="13.9"/><circle cx="1738.0" cy="339.6" r="13.9"/><circle cx="1649.6" cy="313.9" r="13.9"/><circle cx="1745.8" cy="374.1" r="13.9"/><circle cx="1711.6" cy="392.6" r="13.9"/><circle cx="1645.3" cy="300.2" r="13.9"/><circle cx="1772.1" cy="356.0" r="13.9"/><circle cx="1686.9" cy="320.9" r="13.9"/><circle cx="1769.4" cy="330.0" r="13.9"/><circle cx="1683.8" cy="343.6" r="13.9"/><circle cx="1690.8" cy="387.4" r="13.9"/><circle cx="1754.7" cy="326.6" r="13.9"/><circle cx="1652.7" cy="350.0" r="13.9"/><circle cx="1724.7" cy="345.9" r="13.9"/><circle cx="1728.8" cy="371.2" r="13.9"/></g>
<g fill="rgba(0,240,255,0.55)" stroke="rgba(0,0,0,0.85)" stroke-width="1.5"><circle cx="1782.3" cy="380.1" r="13.9"/><circle cx="1751.5" cy="396.1" r="13.9"/></g>
<g fill="rgba(232,18,12,0.25)" stroke="rgba(0,0,0,0.9)" stroke-width="1.6"><circle cx="1567.1" cy="157.3" r="13.9"/><circle cx="1579.5" cy="179.7" r="13.9"/><circle cx="1777.1" cy="527.0" r="13.9"/><circle cx="1688.1" cy="89.6" r="13.9"/><circle cx="1771.1" cy="83.7" r="13.9"/><circle cx="1810.6" cy="87.7" r="13.9"/><circle cx="1826.4" cy="107.4" r="13.9"/><circle cx="1852.1" cy="123.2" r="13.9"/><circle cx="1865.9" cy="127.2" r="13.9"/><circle cx="1903.4" cy="105.4" r="13.9"/><circle cx="1863.9" cy="154.8" r="13.9"/><circle cx="1883.7" cy="194.3" r="13.9"/><circle cx="1889.6" cy="198.3" r="13.9"/><circle cx="1875.8" cy="225.9" r="13.9"/><circle cx="1883.7" cy="241.7" r="13.9"/><circle cx="1871.8" cy="265.4" r="13.9"/><circle cx="1856.0" cy="312.8" r="13.9"/><circle cx="1883.7" cy="310.8" r="13.9"/><circle cx="1840.2" cy="344.4" r="13.9"/><circle cx="1816.5" cy="360.2" r="13.9"/><circle cx="1832.3" cy="368.1" r="13.9"/><circle cx="1800.7" cy="364.2" r="13.9"/><circle cx="1609.1" cy="139.0" r="13.9"/><circle cx="1876.0" cy="220.9" r="13.9"/><circle cx="1885.4" cy="232.2" r="13.9"/><circle cx="1871.5" cy="277.2" r="13.9"/><circle cx="1839.5" cy="342.4" r="13.9"/><circle cx="1823.5" cy="366.4" r="13.9"/><circle cx="1807.5" cy="366.4" r="13.9"/><circle cx="1786.9" cy="354.9" r="13.9"/><circle cx="1796.0" cy="329.8" r="13.9"/><circle cx="1814.3" cy="316.0" r="13.9"/><circle cx="1864.8" cy="157.3" r="13.9"/><circle cx="1753.2" cy="269.6" r="13.9"/><circle cx="1850.1" cy="165.1" r="13.9"/><circle cx="1734.8" cy="173.3" r="13.9"/><circle cx="1732.1" cy="237.4" r="13.9"/><circle cx="1759.1" cy="216.5" r="13.9"/><circle cx="1756.0" cy="156.9" r="13.9"/><circle cx="1843.6" cy="294.9" r="13.9"/><circle cx="1841.0" cy="179.9" r="13.9"/><circle cx="1790.6" cy="284.2" r="13.9"/><circle cx="1781.2" cy="202.4" r="13.9"/><circle cx="1762.2" cy="150.8" r="13.9"/><circle cx="1824.1" cy="242.2" r="13.9"/><circle cx="1732.8" cy="267.9" r="13.9"/><circle cx="1739.7" cy="168.6" r="13.9"/><circle cx="1752.3" cy="222.4" r="13.9"/><circle cx="1775.6" cy="153.6" r="13.9"/><circle cx="1749.3" cy="175.5" r="13.9"/><circle cx="1770.8" cy="141.5" r="13.9"/><circle cx="1734.0" cy="294.9" r="13.9"/><circle cx="1815.6" cy="159.6" r="13.9"/><circle cx="1842.5" cy="168.7" r="13.9"/><circle cx="1772.2" cy="276.2" r="13.9"/><circle cx="1745.4" cy="255.4" r="13.9"/><circle cx="1807.7" cy="201.4" r="13.9"/><circle cx="1766.7" cy="188.0" r="13.9"/><circle cx="1822.9" cy="149.7" r="13.9"/><circle cx="1722.0" cy="260.9" r="13.9"/><circle cx="1799.9" cy="134.3" r="13.9"/><circle cx="1767.0" cy="145.6" r="13.9"/><circle cx="1760.2" cy="182.5" r="13.9"/><circle cx="1723.4" cy="224.5" r="13.9"/><circle cx="1765.6" cy="230.1" r="13.9"/><circle cx="1795.5" cy="225.5" r="13.9"/><circle cx="1759.4" cy="132.8" r="13.9"/><circle cx="1860.1" cy="280.7" r="13.9"/><circle cx="1823.0" cy="303.9" r="13.9"/><circle cx="1757.9" cy="168.9" r="13.9"/><circle cx="1717.0" cy="209.4" r="13.9"/><circle cx="1835.1" cy="251.7" r="13.9"/><circle cx="1837.7" cy="166.1" r="13.9"/><circle cx="1801.7" cy="195.9" r="13.9"/><circle cx="1782.1" cy="154.9" r="13.9"/><circle cx="1729.1" cy="298.6" r="13.9"/><circle cx="1760.5" cy="207.5" r="13.9"/><circle cx="1731.7" cy="201.8" r="13.9"/><circle cx="1717.9" cy="238.2" r="13.9"/><circle cx="1842.6" cy="193.7" r="13.9"/><circle cx="1800.2" cy="152.5" r="13.9"/><circle cx="1751.4" cy="307.9" r="13.9"/><circle cx="1789.3" cy="204.0" r="13.9"/><circle cx="1820.1" cy="322.0" r="13.9"/><circle cx="1861.7" cy="218.4" r="13.9"/><circle cx="1812.5" cy="301.9" r="13.9"/><circle cx="1729.6" cy="154.9" r="13.9"/><circle cx="1844.0" cy="237.9" r="13.9"/><circle cx="1728.3" cy="276.1" r="13.9"/><circle cx="1780.3" cy="256.4" r="13.9"/><circle cx="1828.2" cy="187.0" r="13.9"/><circle cx="1728.7" cy="190.8" r="13.9"/><circle cx="1788.0" cy="182.2" r="13.9"/><circle cx="1784.6" cy="127.0" r="13.9"/><circle cx="1753.2" cy="195.7" r="13.9"/><circle cx="1858.7" cy="238.5" r="13.9"/><circle cx="1772.3" cy="225.8" r="13.9"/><circle cx="1740.0" cy="147.7" r="13.9"/><circle cx="1761.1" cy="311.5" r="13.9"/><circle cx="1796.3" cy="300.9" r="13.9"/><circle cx="1833.0" cy="262.0" r="13.9"/><circle cx="1848.5" cy="158.4" r="13.9"/><circle cx="1792.9" cy="320.0" r="13.9"/><circle cx="1790.5" cy="253.5" r="13.9"/><circle cx="1835.4" cy="197.3" r="13.9"/><circle cx="1719.0" cy="272.8" r="13.9"/><circle cx="1844.8" cy="300.2" r="13.9"/><circle cx="1829.0" cy="265.8" r="13.9"/><circle cx="1752.9" cy="154.1" r="13.9"/><circle cx="1808.6" cy="138.0" r="13.9"/><circle cx="1810.8" cy="233.3" r="13.9"/><circle cx="1854.5" cy="206.0" r="13.9"/><circle cx="1792.6" cy="245.9" r="13.9"/><circle cx="1766.2" cy="266.9" r="13.9"/><circle cx="1822.9" cy="204.8" r="13.9"/><circle cx="1789.2" cy="212.9" r="13.9"/><circle cx="1784.2" cy="212.1" r="13.9"/><circle cx="1833.7" cy="142.9" r="13.9"/><circle cx="1734.6" cy="194.1" r="13.9"/><circle cx="1725.3" cy="149.8" r="13.9"/><circle cx="1721.7" cy="207.1" r="13.9"/><circle cx="1825.3" cy="136.5" r="13.9"/><circle cx="1803.5" cy="311.1" r="13.9"/><circle cx="1827.0" cy="272.8" r="13.9"/><circle cx="1780.7" cy="214.4" r="13.9"/><circle cx="1756.9" cy="247.4" r="13.9"/><circle cx="1726.6" cy="262.7" r="13.9"/><circle cx="1752.4" cy="295.4" r="13.9"/><circle cx="1779.6" cy="274.8" r="13.9"/><circle cx="1765.1" cy="202.3" r="13.9"/><circle cx="1727.3" cy="293.2" r="13.9"/><circle cx="1750.7" cy="157.8" r="13.9"/><circle cx="1833.2" cy="148.6" r="13.9"/><circle cx="1803.2" cy="258.1" r="13.9"/><circle cx="1841.8" cy="251.6" r="13.9"/><circle cx="1791.4" cy="241.7" r="13.9"/><circle cx="1812.4" cy="205.0" r="13.9"/><circle cx="1840.3" cy="197.4" r="13.9"/><circle cx="1757.9" cy="242.4" r="13.9"/><circle cx="1847.6" cy="250.5" r="13.9"/><circle cx="1839.2" cy="218.4" r="13.9"/><circle cx="1833.8" cy="277.4" r="13.9"/><circle cx="1856.9" cy="243.0" r="13.9"/><circle cx="1741.6" cy="176.7" r="13.9"/><circle cx="1792.6" cy="314.4" r="13.9"/><circle cx="1768.1" cy="281.1" r="13.9"/><circle cx="1781.5" cy="245.0" r="13.9"/><circle cx="1776.8" cy="294.2" r="13.9"/><circle cx="1803.3" cy="214.7" r="13.9"/><circle cx="1825.4" cy="219.6" r="13.9"/><circle cx="1811.1" cy="210.4" r="13.9"/><circle cx="1807.0" cy="219.9" r="13.9"/><circle cx="1794.8" cy="232.6" r="13.9"/><circle cx="1841.6" cy="260.0" r="13.9"/><circle cx="1729.4" cy="214.1" r="13.9"/><circle cx="1853.6" cy="223.6" r="13.9"/><circle cx="1846.7" cy="168.5" r="13.9"/><circle cx="1792.7" cy="327.9" r="13.9"/><circle cx="1840.9" cy="276.9" r="13.9"/><circle cx="1803.5" cy="187.9" r="13.9"/><circle cx="1809.8" cy="178.2" r="13.9"/><circle cx="1797.2" cy="163.8" r="13.9"/><circle cx="1813.2" cy="276.8" r="13.9"/><circle cx="1734.1" cy="257.8" r="13.9"/><circle cx="1739.5" cy="155.5" r="13.9"/><circle cx="1796.6" cy="291.0" r="13.9"/><circle cx="1804.5" cy="142.4" r="13.9"/><circle cx="1751.0" cy="190.8" r="13.9"/><circle cx="1749.3" cy="266.6" r="13.9"/><circle cx="1754.0" cy="276.8" r="13.9"/><circle cx="1746.4" cy="183.9" r="13.9"/><circle cx="1838.9" cy="247.6" r="13.9"/><circle cx="1750.3" cy="218.5" r="13.9"/><circle cx="1783.2" cy="141.0" r="13.9"/><circle cx="1819.7" cy="314.4" r="13.9"/><circle cx="1828.0" cy="223.9" r="13.9"/><circle cx="1836.1" cy="305.7" r="13.9"/><circle cx="1808.4" cy="325.1" r="13.9"/><circle cx="1823.4" cy="185.9" r="13.9"/><circle cx="1779.2" cy="167.5" r="13.9"/><circle cx="1805.6" cy="206.6" r="13.9"/><circle cx="1760.9" cy="330.2" r="13.9"/><circle cx="1822.8" cy="215.5" r="13.9"/><circle cx="1811.2" cy="170.2" r="13.9"/><circle cx="1812.0" cy="267.6" r="13.9"/><circle cx="1832.6" cy="281.8" r="13.9"/><circle cx="1735.9" cy="283.4" r="13.9"/><circle cx="1821.2" cy="178.2" r="13.9"/><circle cx="1795.2" cy="169.4" r="13.9"/><circle cx="1746.8" cy="200.8" r="13.9"/><circle cx="1830.7" cy="176.8" r="13.9"/><circle cx="1854.3" cy="218.8" r="13.9"/><circle cx="1817.3" cy="307.1" r="13.9"/><circle cx="1744.6" cy="196.0" r="13.9"/><circle cx="1741.8" cy="233.9" r="13.9"/><circle cx="1770.9" cy="212.7" r="13.9"/><circle cx="1759.3" cy="270.7" r="13.9"/><circle cx="1721.9" cy="156.6" r="13.9"/><circle cx="1768.6" cy="299.9" r="13.9"/><circle cx="1813.3" cy="200.6" r="13.9"/><circle cx="1778.8" cy="234.3" r="13.9"/><circle cx="1728.3" cy="170.9" r="13.9"/><circle cx="1828.6" cy="152.2" r="13.9"/><circle cx="1775.7" cy="228.6" r="13.9"/><circle cx="1744.5" cy="244.7" r="13.9"/><circle cx="1784.4" cy="218.1" r="13.9"/><circle cx="1742.0" cy="185.8" r="13.9"/><circle cx="1757.8" cy="196.8" r="13.9"/><circle cx="1753.8" cy="164.4" r="13.9"/><circle cx="1725.3" cy="246.3" r="13.9"/><circle cx="1713.4" cy="212.9" r="13.9"/><circle cx="1744.1" cy="285.2" r="13.9"/><circle cx="1799.6" cy="216.6" r="13.9"/><circle cx="1859.1" cy="226.6" r="13.9"/><circle cx="1787.6" cy="306.0" r="13.9"/><circle cx="1797.3" cy="213.1" r="13.9"/><circle cx="1835.3" cy="187.5" r="13.9"/><circle cx="1719.0" cy="226.6" r="13.9"/><circle cx="1750.2" cy="290.5" r="13.9"/><circle cx="1801.5" cy="130.4" r="13.9"/><circle cx="1860.8" cy="232.1" r="13.9"/><circle cx="1759.6" cy="279.7" r="13.9"/><circle cx="1784.0" cy="270.9" r="13.9"/><circle cx="1774.5" cy="310.0" r="13.9"/><circle cx="1790.4" cy="289.9" r="13.9"/><circle cx="1796.3" cy="156.1" r="13.9"/><circle cx="1820.8" cy="197.6" r="13.9"/><circle cx="1756.3" cy="258.9" r="13.9"/><circle cx="1769.1" cy="170.0" r="13.9"/><circle cx="1764.3" cy="142.3" r="13.9"/><circle cx="1744.0" cy="318.6" r="13.9"/><circle cx="1867.7" cy="224.5" r="13.9"/><circle cx="1724.5" cy="256.2" r="13.9"/><circle cx="1816.6" cy="273.5" r="13.9"/><circle cx="1751.8" cy="321.1" r="13.9"/><circle cx="1807.4" cy="194.9" r="13.9"/><circle cx="1739.3" cy="206.7" r="13.9"/><circle cx="1738.4" cy="224.1" r="13.9"/><circle cx="1794.8" cy="202.4" r="13.9"/><circle cx="1806.1" cy="281.9" r="13.9"/><circle cx="1774.8" cy="178.8" r="13.9"/><circle cx="1764.0" cy="159.2" r="13.9"/><circle cx="1812.0" cy="318.2" r="13.9"/><circle cx="1781.0" cy="180.7" r="13.9"/><circle cx="1824.0" cy="235.9" r="13.9"/><circle cx="1746.8" cy="224.1" r="13.9"/><circle cx="1759.0" cy="266.3" r="13.9"/><circle cx="1794.6" cy="265.4" r="13.9"/><circle cx="1817.0" cy="220.7" r="13.9"/><circle cx="1837.9" cy="262.5" r="13.9"/><circle cx="1762.3" cy="163.2" r="13.9"/><circle cx="1787.4" cy="262.0" r="13.9"/><circle cx="1775.1" cy="204.4" r="13.9"/><circle cx="1726.3" cy="241.6" r="13.9"/><circle cx="1785.7" cy="222.1" r="13.9"/><circle cx="1746.2" cy="230.7" r="13.9"/><circle cx="1739.7" cy="247.1" r="13.9"/><circle cx="1792.7" cy="192.0" r="13.9"/><circle cx="1728.8" cy="146.8" r="13.9"/><circle cx="1847.5" cy="178.4" r="13.9"/><circle cx="1797.9" cy="316.2" r="13.9"/><circle cx="1817.1" cy="207.5" r="13.9"/><circle cx="1787.2" cy="247.3" r="13.9"/><circle cx="1789.7" cy="227.1" r="13.9"/><circle cx="1768.1" cy="249.5" r="13.9"/><circle cx="1769.7" cy="321.5" r="13.9"/><circle cx="1809.7" cy="240.4" r="13.9"/><circle cx="1755.7" cy="322.5" r="13.9"/><circle cx="1802.0" cy="226.6" r="13.9"/><circle cx="1734.8" cy="178.1" r="13.9"/><circle cx="1843.8" cy="149.8" r="13.9"/><circle cx="1755.9" cy="237.5" r="13.9"/><circle cx="1736.2" cy="244.4" r="13.9"/><circle cx="1789.8" cy="325.1" r="13.9"/><circle cx="1838.2" cy="156.3" r="13.9"/><circle cx="1845.6" cy="225.6" r="13.9"/><circle cx="1767.2" cy="153.1" r="13.9"/><circle cx="1762.5" cy="192.2" r="13.9"/><circle cx="1817.5" cy="257.6" r="13.9"/><circle cx="1810.6" cy="183.6" r="13.9"/><circle cx="1832.6" cy="154.9" r="13.9"/><circle cx="1724.2" cy="169.8" r="13.9"/><circle cx="1804.3" cy="264.1" r="13.9"/><circle cx="1771.1" cy="218.9" r="13.9"/><circle cx="1807.2" cy="132.9" r="13.9"/><circle cx="1752.5" cy="251.4" r="13.9"/><circle cx="1799.6" cy="159.8" r="13.9"/><circle cx="1833.4" cy="308.9" r="13.9"/><circle cx="1784.4" cy="308.5" r="13.9"/><circle cx="1809.8" cy="147.6" r="13.9"/><circle cx="1821.6" cy="141.2" r="13.9"/><circle cx="1806.1" cy="247.7" r="13.9"/><circle cx="1780.8" cy="293.9" r="13.9"/><circle cx="1784.5" cy="313.1" r="13.9"/><circle cx="1719.6" cy="185.9" r="13.9"/><circle cx="1822.4" cy="163.7" r="13.9"/><circle cx="1714.0" cy="196.2" r="13.9"/><circle cx="1767.4" cy="131.0" r="13.9"/><circle cx="1824.9" cy="210.7" r="13.9"/><circle cx="1845.3" cy="271.8" r="13.9"/><circle cx="1833.2" cy="269.4" r="13.9"/><circle cx="1819.0" cy="182.0" r="13.9"/><circle cx="1816.2" cy="263.9" r="13.9"/><circle cx="1836.1" cy="233.4" r="13.9"/><circle cx="1827.9" cy="165.9" r="13.9"/><circle cx="1801.5" cy="182.5" r="13.9"/><circle cx="1809.1" cy="299.8" r="13.9"/><circle cx="1747.0" cy="250.0" r="13.9"/><circle cx="1790.4" cy="169.8" r="13.9"/><circle cx="1776.6" cy="265.6" r="13.9"/><circle cx="1769.7" cy="196.3" r="13.9"/><circle cx="1813.6" cy="282.0" r="13.9"/><circle cx="1742.6" cy="304.9" r="13.9"/><circle cx="1782.8" cy="136.8" r="13.9"/><circle cx="1722.4" cy="287.4" r="13.9"/><circle cx="1775.5" cy="212.2" r="13.9"/><circle cx="1803.7" cy="278.0" r="13.9"/><circle cx="1783.6" cy="240.9" r="13.9"/><circle cx="1845.3" cy="188.8" r="13.9"/><circle cx="1806.9" cy="229.0" r="13.9"/><circle cx="1790.8" cy="156.4" r="13.9"/><circle cx="1848.2" cy="182.9" r="13.9"/><circle cx="1837.9" cy="299.7" r="13.9"/><circle cx="1868.7" cy="269.3" r="13.9"/><circle cx="1783.4" cy="301.6" r="13.9"/><circle cx="1728.7" cy="159.2" r="13.9"/><circle cx="1842.0" cy="264.0" r="13.9"/><circle cx="1784.6" cy="172.3" r="13.9"/><circle cx="1779.7" cy="310.9" r="13.9"/><circle cx="1727.3" cy="225.6" r="13.9"/><circle cx="1722.1" cy="201.1" r="13.9"/><circle cx="1758.4" cy="253.0" r="13.9"/><circle cx="1769.5" cy="204.0" r="13.9"/><circle cx="1746.0" cy="161.6" r="13.9"/><circle cx="1773.0" cy="287.8" r="13.9"/><circle cx="1780.6" cy="320.3" r="13.9"/><circle cx="1778.4" cy="269.8" r="13.9"/><circle cx="1859.5" cy="195.5" r="13.9"/><circle cx="1737.4" cy="232.8" r="13.9"/><circle cx="1783.0" cy="185.7" r="13.9"/><circle cx="1832.0" cy="209.7" r="13.9"/><circle cx="1735.2" cy="159.7" r="13.9"/><circle cx="1725.3" cy="180.5" r="13.9"/><circle cx="1823.4" cy="294.4" r="13.9"/><circle cx="1737.5" cy="254.2" r="13.9"/><circle cx="1796.7" cy="310.3" r="13.9"/><circle cx="1730.5" cy="233.3" r="13.9"/><circle cx="1858.2" cy="257.1" r="13.9"/><circle cx="1792.4" cy="270.7" r="13.9"/><circle cx="1785.6" cy="131.1" r="13.9"/><circle cx="1775.6" cy="278.8" r="13.9"/><circle cx="1869.9" cy="255.1" r="13.9"/><circle cx="1803.4" cy="222.6" r="13.9"/><circle cx="1722.2" cy="229.8" r="13.9"/><circle cx="1809.4" cy="158.6" r="13.9"/><circle cx="1765.9" cy="315.5" r="13.9"/><circle cx="1745.2" cy="267.0" r="13.9"/><circle cx="1827.0" cy="182.6" r="13.9"/><circle cx="1767.6" cy="135.1" r="13.9"/><circle cx="1816.1" cy="230.8" r="13.9"/><circle cx="1830.0" cy="159.3" r="13.9"/><circle cx="1808.0" cy="187.8" r="13.9"/><circle cx="1763.3" cy="333.4" r="13.9"/><circle cx="1825.6" cy="258.7" r="13.9"/><circle cx="1849.4" cy="271.2" r="13.9"/><circle cx="1781.8" cy="282.4" r="13.9"/><circle cx="1849.3" cy="298.2" r="13.9"/><circle cx="1752.2" cy="233.5" r="13.9"/><circle cx="1728.8" cy="194.9" r="13.9"/><circle cx="1817.0" cy="141.3" r="13.9"/><circle cx="1855.2" cy="281.0" r="13.9"/><circle cx="1755.3" cy="206.8" r="13.9"/><circle cx="1792.3" cy="301.7" r="13.9"/><circle cx="1802.1" cy="243.4" r="13.9"/><circle cx="1829.4" cy="249.0" r="13.9"/><circle cx="1764.0" cy="137.9" r="13.9"/><circle cx="1783.6" cy="233.6" r="13.9"/><circle cx="1801.2" cy="297.0" r="13.9"/><circle cx="1739.6" cy="308.7" r="13.9"/><circle cx="1785.3" cy="165.4" r="13.9"/><circle cx="1803.2" cy="174.8" r="13.9"/><circle cx="1744.2" cy="154.3" r="13.9"/><circle cx="1760.1" cy="227.7" r="13.9"/><circle cx="1794.9" cy="275.0" r="13.9"/><circle cx="1745.2" cy="274.5" r="13.9"/><circle cx="1778.6" cy="220.5" r="13.9"/><circle cx="1775.3" cy="217.8" r="13.9"/><circle cx="1813.9" cy="313.6" r="13.9"/><circle cx="1762.2" cy="177.4" r="13.9"/><circle cx="1763.5" cy="291.6" r="13.9"/><circle cx="1771.9" cy="297.2" r="13.9"/><circle cx="1838.1" cy="287.6" r="13.9"/><circle cx="1832.8" cy="205.0" r="13.9"/><circle cx="1858.7" cy="263.0" r="13.9"/><circle cx="1745.2" cy="214.4" r="13.9"/><circle cx="1772.7" cy="130.4" r="13.9"/><circle cx="1829.3" cy="241.5" r="13.9"/><circle cx="1870.4" cy="233.9" r="13.9"/><circle cx="1728.0" cy="251.7" r="13.9"/><circle cx="1739.7" cy="279.9" r="13.9"/><circle cx="1777.6" cy="306.3" r="13.9"/><circle cx="1773.3" cy="187.2" r="13.9"/><circle cx="1835.6" cy="178.2" r="13.9"/><circle cx="1863.0" cy="264.6" r="13.9"/><circle cx="1753.7" cy="134.2" r="13.9"/><circle cx="1728.1" cy="205.7" r="13.9"/><circle cx="1749.5" cy="317.0" r="13.9"/><circle cx="1768.0" cy="309.8" r="13.9"/><circle cx="1684.1" cy="284.0" r="13.9"/><circle cx="1730.4" cy="332.8" r="13.9"/><circle cx="1698.0" cy="192.4" r="13.9"/><circle cx="1700.8" cy="280.3" r="13.9"/><circle cx="1708.7" cy="299.4" r="13.9"/><circle cx="1685.1" cy="185.8" r="13.9"/><circle cx="1697.1" cy="304.9" r="13.9"/><circle cx="1689.0" cy="273.6" r="13.9"/><circle cx="1685.5" cy="209.1" r="13.9"/><circle cx="1726.6" cy="318.9" r="13.9"/><circle cx="1690.4" cy="159.4" r="13.9"/><circle cx="1691.5" cy="232.8" r="13.9"/><circle cx="1748.6" cy="332.5" r="13.9"/><circle cx="1680.6" cy="169.4" r="13.9"/><circle cx="1704.5" cy="256.7" r="13.9"/><circle cx="1700.7" cy="178.7" r="13.9"/><circle cx="1696.8" cy="219.5" r="13.9"/></g>
<g fill="none" stroke="#000" stroke-width="4.9" stroke-dasharray="13.5 10.6" stroke-linecap="round">
<path d="M67.5 47.7 H315.5 M315.5 47.7 V222.2 M67.5 47.7 V222.2 M67.5 222.2 H315.5"/>
<path d="M635.2 48 H904.8 M904.8 48 V241.6 M635.2 48 V241.6 M635.2 241.6 H904.8"/>
<path d="M66.8 753.6 H542.0 M542.0 753.6 V927.8 M66.8 753.6 V927.8 M66.8 927.8 H542.0"/>
<path d="M592 754.8 H904.0 M904.0 754.8 V927.7 M592 754.8 V927.7 M592 927.7 H904.0"/>
</g>
<g stroke="#000" stroke-width="2.6" fill="#000">
<path d="M93.7 206 V112" fill="none"/><path d="M83.5 115.5 L103.9 115.5 L93.7 91.5 Z" stroke="none"/>
<path d="M448.4 774.8 H196" fill="none"/><path d="M200 764.6 L200 785 L176 774.8 Z" stroke="none"/>
<path d="M654.9 774.3 H841" fill="none"/><path d="M837.8 764.1 L837.8 784.5 L861.8 774.3 Z" stroke="none"/>
</g>
<text class="i" x="308.6" y="78.6" font-size="26" text-anchor="end">Melioribacter roseus</text>
<text class="i" x="308.6" y="111.1" font-size="26" text-anchor="end">B. silvatlantica</text>
<text class="i" x="308.6" y="143.6" font-size="26" text-anchor="end">P. saccharophila</text>
<text class="i" x="308.6" y="176.1" font-size="26" text-anchor="end">D. alkalitolerans</text>
<text class="i" x="308.6" y="208.6" font-size="26" text-anchor="end">S. maltophilia</text>
<circle cx="670.7" cy="78.7" r="11.3" fill="rgba(0,27,237,0.57)" stroke="rgba(0,0,0,0.8)" stroke-width="1.2"/>
<text x="708" y="87.8" font-size="25.9">Qiagen kit</text>
<circle cx="670.7" cy="121.9" r="11.3" fill="rgba(255,255,0,0.45)" stroke="rgba(0,0,0,0.8)" stroke-width="1.2"/>
<text x="708" y="130.2" font-size="25.9">Mpbio kit 57125</text>
<circle cx="670.7" cy="167.2" r="11.3" fill="rgba(0,120,62,0.65)" stroke="rgba(0,0,0,0.8)" stroke-width="1.2"/>
<text x="708" y="175.2" font-size="25.9">Mpbio kit 79133</text>
<circle cx="670.7" cy="212.5" r="11.3" fill="rgba(240,0,240,0.5)" stroke="rgba(0,0,0,0.8)" stroke-width="1.2"/>
<text x="708" y="220.3" font-size="25.9">Mpbio kit 81709</text>
<text class="i" x="80" y="816.3" font-size="26.05">P. acnes, S. maltophilia, B. silvatlantica,</text>
<text class="i" x="80" y="849.2" font-size="26.05">Pelomonas genus, D. alkalitolerans</text>
<text class="i" x="80" y="881.6" font-size="26.05">Aquabacterium genus ,S. pyogenes</text>
<text class="i" x="80" y="913.3" font-size="26.05"> Bradyrhizobium japonicum</text>
<text class="i" x="605" y="817" font-size="26.05">T. halophila, Afipia <tspan font-style="normal">genus</tspan></text>
<text class="i" x="605" y="849.2" font-size="26.05">Delftia tsuruhatensis</text>
<text class="i" x="605" y="881.4" font-size="26.05">Sediminibacterium genus</text>
<text class="i" x="605" y="913.6" font-size="26.05">Bradyrhizobium elkanii</text>
<rect x="1835.6" y="481" width="285.8" height="345" fill="#fff" stroke="#000" stroke-width="5.6"/>
<circle cx="1868" cy="509.8" r="14.5" fill="rgba(240,0,0,0.25)" stroke="rgba(0,0,0,0.85)" stroke-width="1.3"/>
<text class="i" x="1915" y="519.7" font-size="27.3">T. halophila</text>
<circle cx="1868" cy="561.5" r="14.5" fill="rgba(0,27,237,0.57)" stroke="rgba(0,0,0,0.85)" stroke-width="1.3"/>
<text class="i" x="1915" y="571" font-size="27.3">P. acnes</text>
<circle cx="1868" cy="616" r="14.5" fill="rgba(0,240,255,0.55)" stroke="rgba(0,0,0,0.85)" stroke-width="1.3"/>
<text class="i" x="1915" y="625.1" font-size="27.3">B. multivorans</text>
<circle cx="1868" cy="670.6" r="14.5" fill="rgba(0,120,62,0.65)" stroke="rgba(0,0,0,0.85)" stroke-width="1.3"/>
<text class="i" x="1915" y="679.7" font-size="27.3">B. silvatlantica</text>
<circle cx="1868" cy="730.4" r="14.5" fill="rgba(240,0,240,0.5)" stroke="rgba(0,0,0,0.85)" stroke-width="1.3"/>
<text class="i" x="1915" y="739.5" font-size="27.3">Pelomonas gen.</text>
<circle cx="1868" cy="787.6" r="14.5" fill="rgba(255,255,0,1)" stroke="rgba(0,0,0,0.85)" stroke-width="1.3"/>
<text class="i" x="1915" y="796.7" font-size="27.3">D. alkalitolerans</text>
</svg></body></html>
